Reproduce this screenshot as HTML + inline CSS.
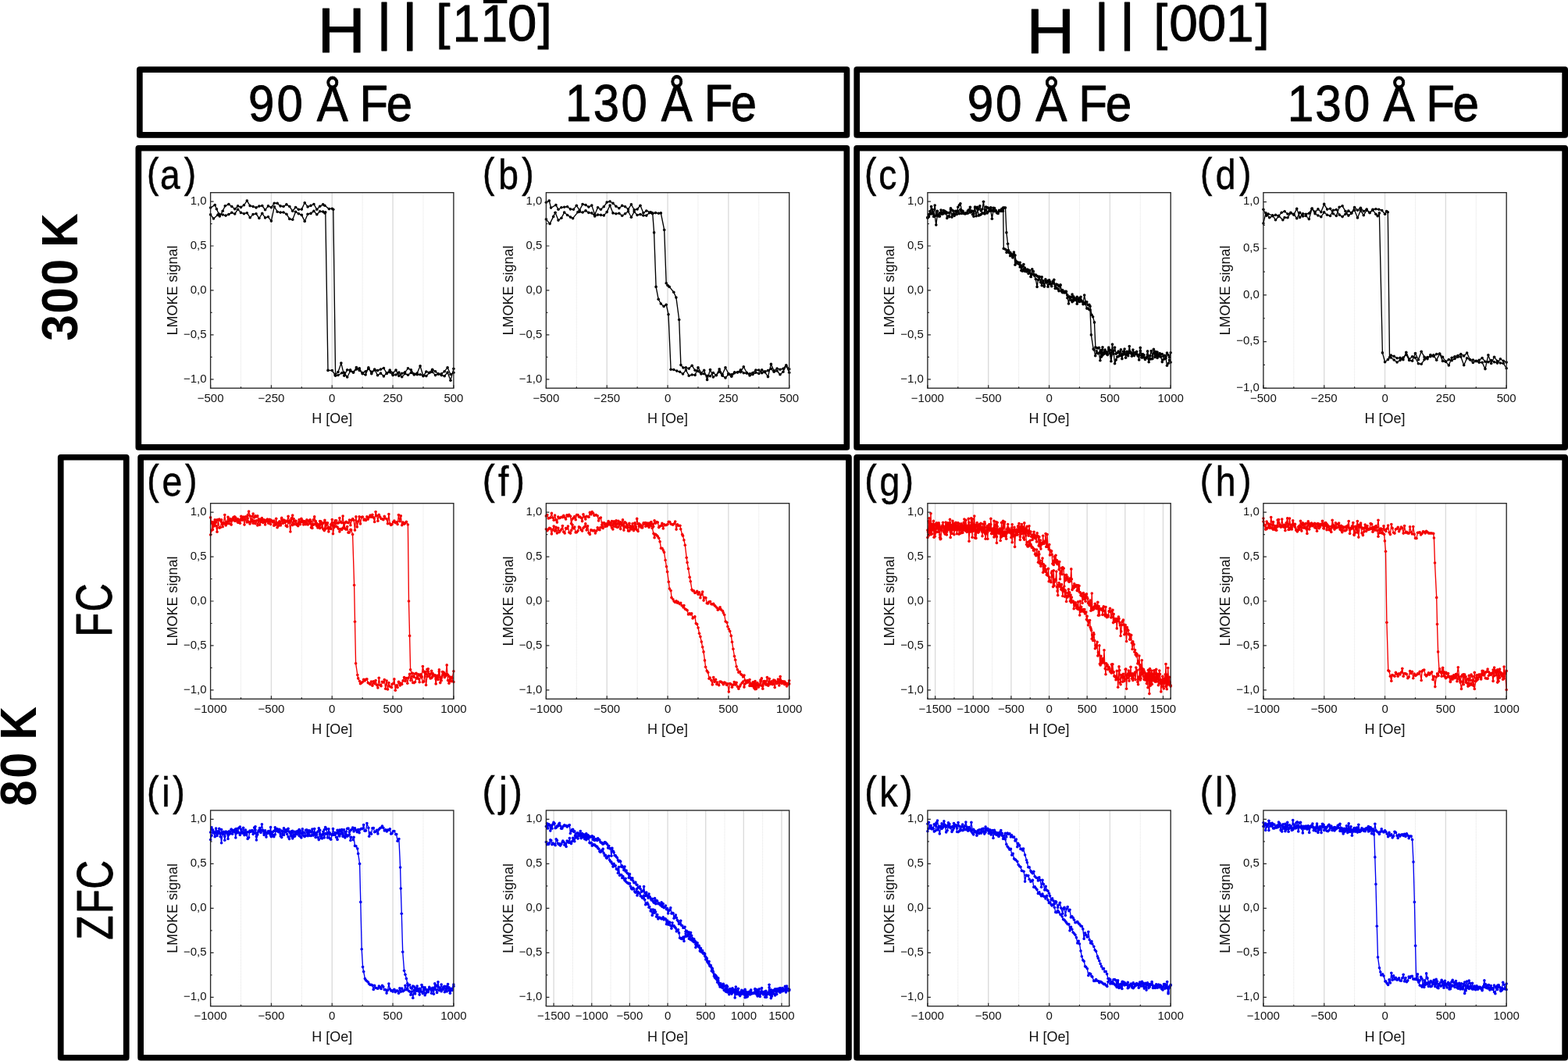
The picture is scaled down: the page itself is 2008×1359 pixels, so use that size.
<!DOCTYPE html><html><head><meta charset="utf-8"><title>LMOKE hysteresis loops</title><style>html,body{margin:0;padding:0;background:#fff;}svg{display:block;}</style></head><body><svg width="2008" height="1359" viewBox="0 0 2008 1359" font-family="'Liberation Sans', Arial, sans-serif">
<rect width="2008" height="1359" fill="#fff"/>
<defs><marker id="mkk" viewBox="-2 -2 4 4" markerWidth="4" markerHeight="4" markerUnits="userSpaceOnUse" overflow="visible"><circle r="1.8" fill="#000"/></marker><marker id="mkr" viewBox="-2 -2 4 4" markerWidth="4" markerHeight="4" markerUnits="userSpaceOnUse" overflow="visible"><circle r="1.8" fill="#f40000"/></marker><marker id="mkb" viewBox="-2 -2 4 4" markerWidth="4" markerHeight="4" markerUnits="userSpaceOnUse" overflow="visible"><circle r="1.8" fill="#0000f2"/></marker></defs>
<g fill="#000">
<text transform="translate(406.39 66.60) scale(1.0384 1)" font-size="82.03" font-weight="normal" stroke="#000" stroke-width="1.0" stroke-linejoin="round">H</text>
<text transform="translate(482.25 50.80) scale(1.1353 1)" font-size="66.06" font-weight="normal" stroke="#000" stroke-width="1.0" stroke-linejoin="round">|</text>
<text transform="translate(514.63 50.80) scale(1.1731 1)" font-size="66.06" font-weight="normal" stroke="#000" stroke-width="1.0" stroke-linejoin="round">|</text>
<text transform="translate(558.31 50.17) scale(1.0398 1)" font-size="62.99" font-weight="normal" stroke="#000" stroke-width="1.0" stroke-linejoin="round">[</text>
<text transform="translate(579.73 52.60) scale(0.9472 1)" font-size="65.80" font-weight="normal" stroke="#000" stroke-width="1.0" stroke-linejoin="round">1</text>
<text transform="translate(616.11 52.60) scale(0.9296 1)" font-size="65.80" font-weight="normal" stroke="#000" stroke-width="1.0" stroke-linejoin="round">1</text>
<text transform="translate(649.91 52.25) scale(1.0321 1)" font-size="65.07" font-weight="normal" stroke="#000" stroke-width="1.0" stroke-linejoin="round">0</text>
<text transform="translate(688.54 50.17) scale(1.0420 1)" font-size="62.99" font-weight="normal" stroke="#000" stroke-width="1.0" stroke-linejoin="round">]</text>
<rect x="619" y="0" width="30.4" height="4.2"/>
<text transform="translate(1314.31 67.70) scale(1.0474 1)" font-size="82.17" font-weight="normal" stroke="#000" stroke-width="1.0" stroke-linejoin="round">H</text>
<text transform="translate(1401.48 50.55) scale(1.0939 1)" font-size="66.28" font-weight="normal" stroke="#000" stroke-width="1.0" stroke-linejoin="round">|</text>
<text transform="translate(1433.75 50.55) scale(1.1316 1)" font-size="66.28" font-weight="normal" stroke="#000" stroke-width="1.0" stroke-linejoin="round">|</text>
<text transform="translate(1477.56 50.57) scale(0.9929 1)" font-size="63.96" font-weight="normal" stroke="#000" stroke-width="1.0" stroke-linejoin="round">[</text>
<text transform="translate(1497.16 52.35) scale(1.0127 1)" font-size="65.07" font-weight="normal" stroke="#000" stroke-width="1.0" stroke-linejoin="round">0</text>
<text transform="translate(1533.56 52.35) scale(1.0127 1)" font-size="65.07" font-weight="normal" stroke="#000" stroke-width="1.0" stroke-linejoin="round">0</text>
<text transform="translate(1570.26 53.00) scale(0.9614 1)" font-size="65.80" font-weight="normal" stroke="#000" stroke-width="1.0" stroke-linejoin="round">1</text>
<text transform="translate(1607.55 50.57) scale(1.0183 1)" font-size="63.96" font-weight="normal" stroke="#000" stroke-width="1.0" stroke-linejoin="round">]</text>
<text transform="translate(0 155.10) scale(0.9219 1)" x="344.99 384.53 417.97 440.13 483.31 499.41 536.77" y="0" font-size="64.93" font-weight="normal" stroke="#000" stroke-width="0.9" stroke-linejoin="round">90 Å Fe</text>
<text transform="translate(0 154.70) scale(0.9008 1)" x="803.74 843.43 883.06 917.24 940.08 984.22 1001.02 1038.92" y="0" font-size="66.38" font-weight="normal" stroke="#000" stroke-width="0.9" stroke-linejoin="round">130 Å Fe</text>
<text transform="translate(0 155.10) scale(0.9251 1)" x="1339.12 1378.36 1411.94 1433.68 1477.05 1493.19 1530.45" y="0" font-size="65.22" font-weight="normal" stroke="#000" stroke-width="0.9" stroke-linejoin="round">90 Å Fe</text>
<text transform="translate(0 154.70) scale(0.9336 1)" x="1765.91 1804.00 1843.04 1876.32 1897.59 1940.57 1956.13 1992.83" y="0" font-size="64.64" font-weight="normal" stroke="#000" stroke-width="0.9" stroke-linejoin="round">130 Å Fe</text>
<text transform="translate(99.26 0) rotate(-90) scale(0.9423 1)" x="-463.53 -426.39 -387.77 -354.69 -336.30" y="0" font-size="64.23" font-weight="bold">300 K</text>
<text transform="translate(45.66 0) rotate(-90) scale(0.9234 1)" x="-1118.07 -1079.46 -1046.38 -1026.31" y="0" font-size="64.23" font-weight="bold">80 K</text>
<text transform="translate(143.36 0) rotate(-90) scale(0.7842 1)" x="-1039.98 -999.12" y="0" font-size="63.94" font-weight="normal" stroke="#000" stroke-width="0.9" stroke-linejoin="round">FC</text>
<text transform="translate(143.75 0) rotate(-90) scale(0.7896 1)" x="-1524.50 -1482.09 -1442.25" y="0" font-size="64.65" font-weight="normal" stroke="#000" stroke-width="0.9" stroke-linejoin="round">ZFC</text>
</g>
<rect x="178.85" y="89.15" width="905.60" height="83.80" fill="none" stroke="#000" stroke-width="7.7" stroke-linejoin="round"/>
<rect x="1097.25" y="89.15" width="906.90" height="83.80" fill="none" stroke="#000" stroke-width="7.7" stroke-linejoin="round"/>
<rect x="177.35" y="189.75" width="907.00" height="383.20" fill="none" stroke="#000" stroke-width="7.7" stroke-linejoin="round"/>
<rect x="1097.15" y="189.75" width="907.00" height="383.20" fill="none" stroke="#000" stroke-width="7.7" stroke-linejoin="round"/>
<rect x="180.15" y="585.75" width="906.80" height="769.00" fill="none" stroke="#000" stroke-width="7.7" stroke-linejoin="round"/>
<rect x="1097.15" y="585.75" width="907.00" height="769.00" fill="none" stroke="#000" stroke-width="7.7" stroke-linejoin="round"/>
<rect x="77.75" y="585.75" width="84.00" height="769.00" fill="none" stroke="#000" stroke-width="7.7" stroke-linejoin="round"/>
<line x1="308.51" y1="246.70" x2="308.51" y2="497.20" stroke="#e2e2e2" stroke-width="1" stroke-dasharray="1 1"/><line x1="347.43" y1="246.70" x2="347.43" y2="497.20" stroke="#dcdcdc" stroke-width="1.4"/><line x1="386.34" y1="246.70" x2="386.34" y2="497.20" stroke="#e2e2e2" stroke-width="1" stroke-dasharray="1 1"/><line x1="425.25" y1="246.70" x2="425.25" y2="497.20" stroke="#dcdcdc" stroke-width="1.4"/><line x1="464.16" y1="246.70" x2="464.16" y2="497.20" stroke="#e2e2e2" stroke-width="1" stroke-dasharray="1 1"/><line x1="503.08" y1="246.70" x2="503.08" y2="497.20" stroke="#dcdcdc" stroke-width="1.4"/><line x1="541.99" y1="246.70" x2="541.99" y2="497.20" stroke="#e2e2e2" stroke-width="1" stroke-dasharray="1 1"/>
<polyline points="269.6,266.1 275.2,262.6 277.4,267.7 280.2,274.0 285.2,275.0 289.1,276.1 292.9,274.6 296.8,272.3 300.7,274.0 304.6,268.2 308.5,272.4 312.4,273.7 316.3,272.7 320.2,278.7 324.1,274.6 328.0,273.8 331.9,279.5 335.8,273.4 339.6,278.9 343.5,277.8 347.4,283.1 351.3,264.7 355.2,271.2 359.1,272.1 363.0,272.0 366.9,274.2 370.8,280.4 374.7,281.3 378.6,271.3 382.4,273.7 386.3,275.4 390.2,283.4 394.1,274.2 398.0,273.4 401.9,270.4 405.8,274.8 409.7,270.8 413.6,271.1 415.9,273.0 416.8,271.8 420.0,474.4 425.3,474.5 429.1,480.1 433.0,476.5 436.9,465.1 440.8,481.3 444.7,473.8 448.6,473.7 452.5,477.3 456.4,470.6 460.3,474.5 464.2,477.6 468.1,475.9 471.9,472.4 475.8,476.4 479.7,473.9 483.6,474.6 487.5,473.1 491.4,471.5 495.3,478.4 499.2,474.0 503.1,477.9 507.0,474.1 510.9,481.4 514.7,478.2 518.6,476.8 522.5,471.8 526.4,473.9 530.3,479.1 534.2,478.0 538.1,468.7 542.0,481.8 545.9,476.0 549.8,477.4 553.7,473.2 557.6,475.7 561.4,479.3 565.3,478.8 569.2,475.7 573.1,470.8 577.0,479.5 580.9,477.2" fill="none" stroke="#000" stroke-width="1.35" stroke-linejoin="round" marker-start="url(#mkk)" marker-mid="url(#mkk)" marker-end="url(#mkk)"/>
<polyline points="269.6,274.9 273.5,280.0 278.9,275.2 281.3,276.9 285.2,270.3 288.3,263.8 292.9,261.6 296.8,264.5 300.7,267.7 304.6,263.9 308.5,265.4 312.4,262.8 316.3,257.1 320.2,263.6 324.1,264.6 328.0,265.9 331.9,264.1 335.8,263.5 339.6,268.8 343.5,263.9 347.4,265.7 351.3,260.2 355.2,260.4 359.1,263.9 363.0,264.5 366.9,261.9 370.8,264.5 374.7,270.3 378.6,265.5 382.4,268.3 386.3,268.1 390.2,259.7 394.1,264.9 398.0,263.4 401.9,261.5 405.8,268.3 409.7,264.3 413.6,261.9 415.9,263.2 421.4,267.6 425.3,267.2 426.8,268.3 429.6,481.3 433.0,480.5 437.7,477.8 440.8,477.3 444.7,483.0 448.6,475.3 452.5,476.5 456.4,473.0 460.3,471.8 464.2,478.8 468.1,480.0 471.9,470.9 475.8,478.8 479.7,473.1 483.6,480.8 487.5,478.1 491.4,481.9 495.3,477.9 499.2,476.7 503.1,480.6 507.0,480.0 510.9,477.1 514.7,482.7 518.6,478.6 522.5,480.2 526.4,477.4 530.3,479.9 534.2,479.8 538.1,479.7 542.0,481.0 545.9,481.6 549.8,477.5 553.7,476.4 557.6,480.6 561.4,478.7 565.3,480.6 569.2,481.7 573.1,477.0 577.0,487.2 580.9,472.3" fill="none" stroke="#000" stroke-width="1.35" stroke-linejoin="round" marker-start="url(#mkk)" marker-mid="url(#mkk)" marker-end="url(#mkk)"/>
<rect x="269.60" y="246.70" width="311.30" height="250.50" fill="none" stroke="#262626" stroke-width="1.35"/>
<path d="M269.60 497.20v-4M308.51 497.20v-2M347.43 497.20v-4M386.34 497.20v-2M425.25 497.20v-4M464.16 497.20v-2M503.08 497.20v-4M541.99 497.20v-2M580.90 497.20v-4M269.60 497.20v-4M580.90 497.20v-4M269.60 485.81h4M269.60 457.35h2M269.60 428.88h4M269.60 400.42h2M269.60 371.95h4M269.60 343.48h2M269.60 315.02h4M269.60 286.55h2M269.60 258.09h4" stroke="#262626" stroke-width="1.2" fill="none"/>
<g font-size="15" fill="#111"><text x="269.60" y="514.80" text-anchor="middle">−500</text><text x="347.43" y="514.80" text-anchor="middle">−250</text><text x="425.25" y="514.80" text-anchor="middle">0</text><text x="503.08" y="514.80" text-anchor="middle">250</text><text x="580.90" y="514.80" text-anchor="middle">500</text><text x="264.60" y="489.61" text-anchor="end">−1,0</text><text x="264.60" y="432.68" text-anchor="end">−0,5</text><text x="264.60" y="375.75" text-anchor="end">0,0</text><text x="264.60" y="318.82" text-anchor="end">0,5</text><text x="264.60" y="261.89" text-anchor="end">1,0</text></g>
<text x="425.25" y="542.30" text-anchor="middle" font-size="18" fill="#111">H [Oe]</text>
<text transform="translate(226.90 371.95) rotate(-90)" text-anchor="middle" font-size="18" fill="#111">LMOKE signal</text>
<text transform="scale(0.8600 1)" x="218.60 238.28 274.10" y="239.70 241.70 239.70" font-size="53.80" fill="#000" stroke="#000" stroke-width="0.5">(a)</text>
<line x1="738.31" y1="246.70" x2="738.31" y2="497.20" stroke="#e2e2e2" stroke-width="1" stroke-dasharray="1 1"/><line x1="777.23" y1="246.70" x2="777.23" y2="497.20" stroke="#dcdcdc" stroke-width="1.4"/><line x1="816.14" y1="246.70" x2="816.14" y2="497.20" stroke="#e2e2e2" stroke-width="1" stroke-dasharray="1 1"/><line x1="855.05" y1="246.70" x2="855.05" y2="497.20" stroke="#dcdcdc" stroke-width="1.4"/><line x1="893.96" y1="246.70" x2="893.96" y2="497.20" stroke="#e2e2e2" stroke-width="1" stroke-dasharray="1 1"/><line x1="932.88" y1="246.70" x2="932.88" y2="497.20" stroke="#dcdcdc" stroke-width="1.4"/><line x1="971.79" y1="246.70" x2="971.79" y2="497.20" stroke="#e2e2e2" stroke-width="1" stroke-dasharray="1 1"/>
<polyline points="699.4,259.2 703.3,257.1 705.6,266.1 711.9,262.6 715.0,268.2 718.9,265.8 722.7,265.2 726.6,264.7 730.5,267.9 734.4,268.2 738.3,263.3 742.2,269.2 746.1,261.6 750.0,262.6 753.9,265.1 757.8,263.1 761.7,274.7 765.6,265.8 769.4,268.3 773.3,264.8 777.2,259.0 781.1,258.0 785.0,260.4 788.9,264.3 792.8,266.7 796.7,263.4 800.6,264.7 804.5,268.1 808.4,261.8 812.2,268.8 816.1,268.0 820.0,263.3 823.9,272.7 827.8,270.0 833.3,271.8 835.7,272.9 837.6,297.9 840.1,367.4 843.2,383.3 846.3,389.0 850.1,392.4 853.2,390.2 856.0,402.7 859.1,473.3 862.8,473.5 866.7,475.1 870.6,476.2 874.5,479.0 878.4,474.1 882.3,481.2 886.2,480.0 890.1,480.4 894.0,470.7 897.9,477.7 901.7,474.4 905.6,486.5 909.5,473.5 913.4,483.0 917.3,480.5 921.2,476.0 925.1,481.3 929.0,483.9 932.9,479.5 936.8,482.3 940.7,477.7 944.5,476.7 948.4,476.6 952.3,469.7 956.2,477.2 960.1,481.0 964.0,479.6 967.9,477.2 971.8,478.4 975.7,473.9 979.6,476.7 983.5,482.6 987.4,466.4 991.2,475.0 995.1,472.0 999.0,473.2 1002.9,472.2 1006.8,467.8 1010.7,472.7" fill="none" stroke="#000" stroke-width="1.35" stroke-linejoin="round" marker-start="url(#mkk)" marker-mid="url(#mkk)" marker-end="url(#mkk)"/>
<polyline points="699.4,280.9 704.1,286.6 708.7,277.4 711.1,272.2 715.0,282.1 718.9,279.3 722.7,272.1 726.6,275.5 730.5,278.1 733.6,279.7 739.9,271.8 742.2,271.2 746.1,272.0 750.0,269.9 753.9,272.4 757.8,272.9 761.7,277.0 765.6,275.1 769.4,275.4 773.3,275.9 777.2,271.6 781.1,263.0 785.0,272.9 788.9,273.8 792.8,273.2 796.7,276.2 800.6,273.8 804.5,270.8 808.4,278.2 812.2,271.1 816.1,275.5 820.0,274.6 823.9,276.0 827.8,276.1 831.7,272.6 835.6,273.8 839.5,272.6 843.4,273.2 846.3,272.9 850.7,294.5 853.2,362.8 855.0,365.6 857.2,367.4 862.8,374.2 865.9,381.1 869.7,409.5 871.9,467.6 875.0,471.0 878.4,470.9 882.3,472.1 886.2,468.3 890.1,474.3 894.0,475.5 897.9,479.0 901.7,478.8 905.6,481.4 909.5,481.7 913.4,477.5 917.3,480.8 921.2,472.7 925.1,479.7 929.0,470.7 932.9,478.5 936.8,479.8 940.7,476.7 944.5,477.0 948.4,473.8 952.3,477.8 956.2,478.1 960.1,478.7 964.0,477.5 967.9,474.1 971.8,474.0 975.7,477.8 979.6,475.9 983.5,474.6 987.4,472.4 991.2,476.2 995.1,475.0 999.0,479.7 1002.9,476.3 1006.8,468.5 1010.7,477.2" fill="none" stroke="#000" stroke-width="1.35" stroke-linejoin="round" marker-start="url(#mkk)" marker-mid="url(#mkk)" marker-end="url(#mkk)"/>
<rect x="699.40" y="246.70" width="311.30" height="250.50" fill="none" stroke="#262626" stroke-width="1.35"/>
<path d="M699.40 497.20v-4M738.31 497.20v-2M777.23 497.20v-4M816.14 497.20v-2M855.05 497.20v-4M893.96 497.20v-2M932.88 497.20v-4M971.79 497.20v-2M1010.70 497.20v-4M699.40 497.20v-4M1010.70 497.20v-4M699.40 485.81h4M699.40 457.35h2M699.40 428.88h4M699.40 400.42h2M699.40 371.95h4M699.40 343.48h2M699.40 315.02h4M699.40 286.55h2M699.40 258.09h4" stroke="#262626" stroke-width="1.2" fill="none"/>
<g font-size="15" fill="#111"><text x="699.40" y="514.80" text-anchor="middle">−500</text><text x="777.23" y="514.80" text-anchor="middle">−250</text><text x="855.05" y="514.80" text-anchor="middle">0</text><text x="932.88" y="514.80" text-anchor="middle">250</text><text x="1010.70" y="514.80" text-anchor="middle">500</text><text x="694.40" y="489.61" text-anchor="end">−1,0</text><text x="694.40" y="432.68" text-anchor="end">−0,5</text><text x="694.40" y="375.75" text-anchor="end">0,0</text><text x="694.40" y="318.82" text-anchor="end">0,5</text><text x="694.40" y="261.89" text-anchor="end">1,0</text></g>
<text x="855.05" y="542.30" text-anchor="middle" font-size="18" fill="#111">H [Oe]</text>
<text transform="translate(656.70 371.95) rotate(-90)" text-anchor="middle" font-size="18" fill="#111">LMOKE signal</text>
<text transform="scale(0.8600 1)" x="718.71 742.07 777.00" y="239.70 241.70 239.70" font-size="53.80" fill="#000" stroke="#000" stroke-width="0.5">(b)</text>
<line x1="1226.81" y1="246.70" x2="1226.81" y2="497.20" stroke="#e2e2e2" stroke-width="1" stroke-dasharray="1 1"/><line x1="1265.73" y1="246.70" x2="1265.73" y2="497.20" stroke="#dcdcdc" stroke-width="1.4"/><line x1="1304.64" y1="246.70" x2="1304.64" y2="497.20" stroke="#e2e2e2" stroke-width="1" stroke-dasharray="1 1"/><line x1="1343.55" y1="246.70" x2="1343.55" y2="497.20" stroke="#dcdcdc" stroke-width="1.4"/><line x1="1382.46" y1="246.70" x2="1382.46" y2="497.20" stroke="#e2e2e2" stroke-width="1" stroke-dasharray="1 1"/><line x1="1421.38" y1="246.70" x2="1421.38" y2="497.20" stroke="#dcdcdc" stroke-width="1.4"/><line x1="1460.29" y1="246.70" x2="1460.29" y2="497.20" stroke="#e2e2e2" stroke-width="1" stroke-dasharray="1 1"/>
<polyline points="1187.9,278.3 1189.5,277.6 1191.0,270.5 1192.6,274.0 1194.1,268.2 1195.7,274.1 1197.2,263.1 1198.8,276.2 1200.4,270.3 1201.9,276.9 1203.5,277.1 1205.0,269.0 1206.6,274.3 1208.1,269.6 1209.7,271.6 1211.2,273.4 1212.8,272.4 1214.4,272.7 1215.9,272.5 1217.5,268.4 1219.0,278.1 1220.6,274.0 1222.1,274.4 1223.7,270.4 1225.3,271.6 1226.8,265.3 1228.4,262.7 1229.9,260.8 1231.5,269.7 1233.0,271.0 1234.6,273.6 1236.2,273.1 1237.7,272.9 1239.3,270.0 1240.8,268.8 1242.4,265.3 1243.9,271.1 1245.5,270.4 1247.0,274.0 1248.6,265.1 1250.2,265.7 1251.7,265.3 1253.3,268.1 1254.8,263.7 1256.4,269.9 1257.9,268.0 1259.5,258.3 1261.1,274.0 1262.6,265.1 1264.2,265.7 1265.7,266.4 1267.3,268.7 1268.8,265.8 1270.4,270.0 1272.0,266.3 1273.5,270.6 1275.1,270.3 1276.6,272.5 1278.2,271.8 1279.7,269.2 1281.3,269.5 1282.8,270.4 1284.7,266.1 1285.3,318.4 1287.5,319.3 1289.1,323.4 1290.2,320.7 1292.2,323.7 1293.7,323.2 1295.3,325.5 1296.9,328.9 1298.4,323.1 1300.0,339.3 1301.1,336.7 1303.1,335.9 1304.6,338.3 1306.2,336.3 1307.8,346.5 1309.3,341.5 1310.9,338.5 1312.4,347.4 1314.6,348.0 1315.5,346.8 1317.1,350.4 1318.6,347.0 1320.2,354.4 1321.8,350.9 1323.3,351.5 1324.9,353.5 1326.4,357.6 1328.1,367.4 1329.5,358.4 1331.1,354.4 1332.7,361.7 1334.2,354.8 1335.8,362.0 1337.3,366.6 1338.9,357.8 1340.4,360.5 1342.0,359.6 1343.6,360.7 1344.5,360.9 1346.7,366.8 1348.2,361.4 1349.8,363.3 1351.3,366.6 1352.9,368.9 1354.4,369.9 1356.0,372.7 1358.0,365.5 1359.1,373.0 1360.7,374.7 1362.2,373.9 1363.8,373.4 1365.3,373.5 1366.9,377.9 1368.5,389.0 1370.0,380.3 1371.7,384.5 1373.1,386.7 1374.7,379.9 1376.2,383.4 1377.8,384.3 1379.3,380.4 1380.9,386.0 1382.5,386.4 1384.0,380.3 1385.1,385.5 1387.1,389.7 1388.7,388.5 1390.2,389.5 1391.8,395.1 1393.4,395.0 1394.9,396.5 1396.0,397.0 1397.4,428.9 1400.2,447.1 1401.1,448.0 1402.7,455.8 1404.3,449.7 1405.8,452.8 1407.4,452.3 1408.9,461.8 1410.5,448.2 1412.0,454.9 1413.6,453.5 1415.1,448.0 1416.7,453.0 1418.3,454.6 1419.8,447.4 1421.4,452.5 1422.9,462.8 1424.5,450.0 1426.0,449.5 1427.6,465.8 1429.2,460.9 1430.7,457.1 1432.3,456.6 1433.8,455.5 1435.4,455.8 1436.9,453.9 1438.5,454.1 1440.1,450.8 1441.6,454.1 1443.2,454.0 1444.7,453.0 1446.3,449.6 1447.8,451.1 1449.4,456.3 1450.9,453.1 1452.5,455.6 1454.1,453.1 1455.6,453.4 1457.2,456.0 1458.7,454.7 1460.3,449.4 1461.8,458.0 1463.4,453.6 1465.0,457.6 1466.5,459.4 1468.1,458.4 1469.6,449.9 1471.2,460.2 1472.7,459.9 1474.3,459.8 1475.9,459.6 1477.4,447.4 1479.0,457.5 1480.5,450.8 1482.1,458.5 1483.6,454.3 1485.2,456.7 1486.7,457.0 1488.3,463.6 1489.9,460.2 1491.4,459.6 1493.0,458.9 1494.5,468.3 1496.1,465.5 1497.6,461.0 1499.2,464.1" fill="none" stroke="#000" stroke-width="1.35" stroke-linejoin="round" marker-start="url(#mkk)" marker-mid="url(#mkk)" marker-end="url(#mkk)"/>
<polyline points="1187.9,279.2 1189.5,274.5 1191.0,274.1 1192.6,264.5 1194.1,273.1 1195.7,277.5 1197.2,276.4 1198.8,288.1 1200.4,275.0 1201.9,276.0 1203.5,272.7 1205.0,273.8 1206.6,272.4 1208.1,273.8 1209.7,270.2 1211.2,271.2 1212.8,279.5 1214.4,276.8 1215.9,277.8 1217.5,266.7 1219.0,269.0 1220.6,270.1 1222.1,276.4 1223.7,274.4 1225.3,274.6 1226.8,270.0 1228.4,273.8 1229.9,268.4 1231.5,273.4 1233.0,270.3 1234.6,273.2 1236.2,273.9 1237.7,272.8 1239.3,273.3 1240.8,268.9 1242.4,272.1 1243.9,270.4 1245.5,274.7 1247.0,277.2 1248.6,265.9 1250.2,276.7 1251.7,267.6 1253.3,276.1 1254.8,275.4 1256.4,274.6 1257.9,272.9 1259.5,273.2 1261.1,272.6 1262.6,268.7 1264.2,273.0 1265.7,271.0 1267.3,269.9 1268.8,269.9 1270.4,280.2 1272.0,269.6 1273.5,266.5 1275.1,269.2 1276.6,272.7 1278.2,273.5 1279.7,270.0 1281.3,270.4 1282.8,267.5 1284.4,270.4 1286.0,266.0 1287.5,266.1 1288.9,297.9 1290.6,312.3 1291.6,320.7 1293.7,327.8 1295.3,325.7 1296.9,330.0 1298.4,325.3 1300.0,327.1 1301.1,334.4 1303.1,337.3 1304.6,336.6 1306.2,341.9 1307.8,340.1 1309.3,347.2 1310.9,344.9 1312.4,343.1 1314.6,345.8 1315.5,345.0 1317.1,345.8 1318.6,346.6 1320.2,354.5 1321.8,344.8 1323.3,347.5 1324.9,352.2 1326.4,352.0 1328.1,353.6 1329.5,354.4 1331.1,354.7 1332.7,361.3 1334.2,365.7 1335.8,359.7 1337.3,367.1 1338.9,359.8 1340.4,361.9 1342.0,367.3 1343.6,358.8 1344.5,363.9 1346.7,363.9 1348.2,360.4 1349.8,358.3 1351.3,369.5 1352.9,364.0 1354.4,364.9 1356.0,366.5 1358.0,364.7 1359.1,372.0 1360.7,371.6 1362.2,374.8 1363.8,375.0 1365.3,373.4 1366.9,381.8 1368.5,380.0 1370.0,380.2 1371.7,380.9 1373.1,377.1 1374.7,385.3 1376.2,381.7 1377.8,384.2 1379.3,389.3 1380.9,383.6 1382.5,381.7 1384.0,383.8 1385.1,385.9 1387.1,387.5 1388.7,378.0 1390.2,386.5 1391.8,386.8 1393.4,390.8 1394.9,390.4 1396.0,392.4 1398.0,403.3 1399.6,405.7 1401.5,412.9 1402.9,444.8 1404.3,445.7 1405.8,446.0 1407.4,445.2 1408.9,450.7 1410.5,457.1 1412.0,444.7 1413.6,451.6 1415.1,452.2 1416.7,450.5 1418.3,454.3 1419.8,445.0 1421.4,448.4 1422.9,455.4 1424.5,441.1 1426.0,453.2 1427.6,445.1 1429.2,453.2 1430.7,452.0 1432.3,450.1 1433.8,452.5 1435.4,447.7 1436.9,459.6 1438.5,450.2 1440.1,447.0 1441.6,458.2 1443.2,450.4 1444.7,455.8 1446.3,443.6 1447.8,452.4 1449.4,452.7 1450.9,448.0 1452.5,451.8 1454.1,451.7 1455.6,450.4 1457.2,454.9 1458.7,461.0 1460.3,445.4 1461.8,455.2 1463.4,458.0 1465.0,454.7 1466.5,460.5 1468.1,458.0 1469.6,454.2 1471.2,463.7 1472.7,455.9 1474.3,449.5 1475.9,456.0 1477.4,452.5 1479.0,450.4 1480.5,455.7 1482.1,451.0 1483.6,455.9 1485.2,452.6 1486.7,454.0 1488.3,453.5 1489.9,456.4 1491.4,455.4 1493.0,456.5 1494.5,452.0 1496.1,454.8 1497.6,457.8 1499.2,451.8" fill="none" stroke="#000" stroke-width="1.35" stroke-linejoin="round" marker-start="url(#mkk)" marker-mid="url(#mkk)" marker-end="url(#mkk)"/>
<rect x="1187.90" y="246.70" width="311.30" height="250.50" fill="none" stroke="#262626" stroke-width="1.35"/>
<path d="M1187.90 497.20v-4M1226.81 497.20v-2M1265.73 497.20v-4M1304.64 497.20v-2M1343.55 497.20v-4M1382.46 497.20v-2M1421.38 497.20v-4M1460.29 497.20v-2M1499.20 497.20v-4M1187.90 497.20v-4M1499.20 497.20v-4M1187.90 485.81h4M1187.90 457.35h2M1187.90 428.88h4M1187.90 400.42h2M1187.90 371.95h4M1187.90 343.48h2M1187.90 315.02h4M1187.90 286.55h2M1187.90 258.09h4" stroke="#262626" stroke-width="1.2" fill="none"/>
<g font-size="15" fill="#111"><text x="1187.90" y="514.80" text-anchor="middle">−1000</text><text x="1265.73" y="514.80" text-anchor="middle">−500</text><text x="1343.55" y="514.80" text-anchor="middle">0</text><text x="1421.38" y="514.80" text-anchor="middle">500</text><text x="1499.20" y="514.80" text-anchor="middle">1000</text><text x="1182.90" y="489.61" text-anchor="end">−1,0</text><text x="1182.90" y="432.68" text-anchor="end">−0,5</text><text x="1182.90" y="375.75" text-anchor="end">0,0</text><text x="1182.90" y="318.82" text-anchor="end">0,5</text><text x="1182.90" y="261.89" text-anchor="end">1,0</text></g>
<text x="1343.55" y="542.30" text-anchor="middle" font-size="18" fill="#111">H [Oe]</text>
<text transform="translate(1145.20 371.95) rotate(-90)" text-anchor="middle" font-size="18" fill="#111">LMOKE signal</text>
<text transform="scale(0.8600 1)" x="1287.26 1308.34 1338.69" y="239.70 241.70 239.70" font-size="53.80" fill="#000" stroke="#000" stroke-width="0.5">(c)</text>
<line x1="1656.81" y1="246.70" x2="1656.81" y2="497.20" stroke="#e2e2e2" stroke-width="1" stroke-dasharray="1 1"/><line x1="1695.73" y1="246.70" x2="1695.73" y2="497.20" stroke="#dcdcdc" stroke-width="1.4"/><line x1="1734.64" y1="246.70" x2="1734.64" y2="497.20" stroke="#e2e2e2" stroke-width="1" stroke-dasharray="1 1"/><line x1="1773.55" y1="246.70" x2="1773.55" y2="497.20" stroke="#dcdcdc" stroke-width="1.4"/><line x1="1812.46" y1="246.70" x2="1812.46" y2="497.20" stroke="#e2e2e2" stroke-width="1" stroke-dasharray="1 1"/><line x1="1851.38" y1="246.70" x2="1851.38" y2="497.20" stroke="#dcdcdc" stroke-width="1.4"/><line x1="1890.29" y1="246.70" x2="1890.29" y2="497.20" stroke="#e2e2e2" stroke-width="1" stroke-dasharray="1 1"/>
<polyline points="1617.9,286.1 1621.0,272.9 1625.7,278.8 1629.6,276.7 1633.5,275.3 1637.4,276.2 1642.8,281.8 1645.1,278.6 1649.0,278.8 1652.9,272.4 1656.8,274.2 1660.7,279.7 1664.6,272.4 1668.5,276.9 1672.4,276.4 1676.3,280.6 1680.2,267.0 1684.1,273.8 1687.9,276.0 1691.8,277.7 1695.7,271.9 1699.6,275.2 1703.5,276.5 1707.4,269.4 1711.3,268.5 1715.2,275.1 1719.1,277.6 1723.0,274.2 1726.9,270.1 1730.7,272.6 1734.6,269.3 1738.5,278.9 1742.4,269.6 1746.3,275.7 1750.2,269.2 1754.1,272.6 1758.0,269.1 1761.9,274.2 1764.2,276.8 1766.4,272.9 1770.4,451.9 1773.6,463.8 1777.4,460.6 1781.3,455.0 1785.2,456.4 1789.1,458.7 1793.0,458.4 1796.9,460.7 1800.8,451.2 1804.7,460.1 1808.6,456.8 1812.5,458.2 1816.4,465.8 1820.2,466.3 1824.1,460.6 1828.0,457.6 1831.9,456.7 1835.8,454.9 1839.7,461.3 1843.6,453.1 1847.5,462.4 1851.4,463.2 1855.3,460.6 1859.2,461.7 1863.0,459.4 1866.9,457.2 1870.8,456.9 1874.7,467.8 1878.6,458.7 1882.5,460.6 1886.4,461.0 1890.3,462.6 1894.2,461.3 1898.1,458.6 1902.0,463.2 1905.9,463.8 1909.7,461.5 1913.6,463.7 1917.5,465.1 1921.4,459.8 1925.3,462.2 1929.2,464.1" fill="none" stroke="#000" stroke-width="1.35" stroke-linejoin="round" marker-start="url(#mkk)" marker-mid="url(#mkk)" marker-end="url(#mkk)"/>
<polyline points="1617.9,268.2 1621.8,276.2 1624.1,274.1 1629.6,275.9 1633.5,281.7 1637.4,277.2 1641.2,272.2 1645.1,270.8 1649.0,274.1 1652.9,272.9 1656.8,275.3 1660.7,267.4 1664.6,278.5 1668.5,273.7 1672.4,274.3 1676.3,273.2 1680.2,267.2 1684.1,271.4 1687.9,267.9 1691.8,271.6 1695.7,261.4 1699.6,268.1 1703.5,267.2 1707.4,273.8 1711.3,276.5 1715.2,265.3 1719.1,263.8 1723.0,270.6 1726.9,276.1 1730.7,273.2 1734.6,265.6 1738.5,269.3 1742.4,266.3 1746.3,270.5 1750.2,268.1 1754.1,272.4 1758.0,268.3 1761.9,267.7 1765.8,268.2 1769.7,269.5 1773.6,274.3 1775.7,270.6 1777.3,271.8 1779.5,457.8 1781.3,458.0 1785.2,461.0 1789.1,464.0 1793.0,461.5 1796.9,458.0 1800.8,454.2 1804.7,461.4 1808.6,462.3 1812.5,452.5 1816.4,460.7 1820.2,450.3 1824.1,457.2 1828.0,459.7 1831.9,454.6 1835.8,456.5 1839.7,453.6 1843.6,453.3 1847.5,457.4 1851.4,463.1 1855.3,467.9 1859.2,458.2 1863.0,456.7 1866.9,455.6 1870.8,453.6 1874.7,455.9 1878.6,452.0 1882.5,460.8 1886.4,464.4 1890.3,462.4 1894.2,464.3 1898.1,464.3 1902.0,472.6 1905.9,454.7 1909.7,465.5 1913.6,457.3 1917.5,462.5 1921.4,465.0 1925.3,465.5 1929.2,471.7" fill="none" stroke="#000" stroke-width="1.35" stroke-linejoin="round" marker-start="url(#mkk)" marker-mid="url(#mkk)" marker-end="url(#mkk)"/>
<rect x="1617.90" y="246.70" width="311.30" height="250.50" fill="none" stroke="#262626" stroke-width="1.35"/>
<path d="M1617.90 497.20v-4M1656.81 497.20v-2M1695.73 497.20v-4M1734.64 497.20v-2M1773.55 497.20v-4M1812.46 497.20v-2M1851.38 497.20v-4M1890.29 497.20v-2M1929.20 497.20v-4M1617.90 497.20v-4M1929.20 497.20v-4M1617.90 497.20h4M1617.90 467.38h2M1617.90 437.56h4M1617.90 407.74h2M1617.90 377.91h4M1617.90 348.09h2M1617.90 318.27h4M1617.90 288.45h2M1617.90 258.63h4" stroke="#262626" stroke-width="1.2" fill="none"/>
<g font-size="15" fill="#111"><text x="1617.90" y="514.80" text-anchor="middle">−500</text><text x="1695.73" y="514.80" text-anchor="middle">−250</text><text x="1773.55" y="514.80" text-anchor="middle">0</text><text x="1851.38" y="514.80" text-anchor="middle">250</text><text x="1929.20" y="514.80" text-anchor="middle">500</text><text x="1612.90" y="501.00" text-anchor="end">−1,0</text><text x="1612.90" y="441.36" text-anchor="end">−0,5</text><text x="1612.90" y="381.71" text-anchor="end">0,0</text><text x="1612.90" y="322.07" text-anchor="end">0,5</text><text x="1612.90" y="262.43" text-anchor="end">1,0</text></g>
<text x="1773.55" y="542.30" text-anchor="middle" font-size="18" fill="#111">H [Oe]</text>
<text transform="translate(1575.20 371.95) rotate(-90)" text-anchor="middle" font-size="18" fill="#111">LMOKE signal</text>
<text transform="scale(0.8600 1)" x="1787.09 1810.16 1845.38" y="239.70 241.70 239.70" font-size="53.80" fill="#000" stroke="#000" stroke-width="0.5">(d)</text>
<line x1="308.51" y1="644.70" x2="308.51" y2="895.30" stroke="#e2e2e2" stroke-width="1" stroke-dasharray="1 1"/><line x1="347.43" y1="644.70" x2="347.43" y2="895.30" stroke="#dcdcdc" stroke-width="1.4"/><line x1="386.34" y1="644.70" x2="386.34" y2="895.30" stroke="#e2e2e2" stroke-width="1" stroke-dasharray="1 1"/><line x1="425.25" y1="644.70" x2="425.25" y2="895.30" stroke="#dcdcdc" stroke-width="1.4"/><line x1="464.16" y1="644.70" x2="464.16" y2="895.30" stroke="#e2e2e2" stroke-width="1" stroke-dasharray="1 1"/><line x1="503.08" y1="644.70" x2="503.08" y2="895.30" stroke="#dcdcdc" stroke-width="1.4"/><line x1="541.99" y1="644.70" x2="541.99" y2="895.30" stroke="#e2e2e2" stroke-width="1" stroke-dasharray="1 1"/>
<polyline points="269.6,662.9 271.0,670.0 272.4,678.4 273.8,671.4 275.2,665.7 276.6,669.2 278.0,665.9 279.4,666.1 280.8,665.0 282.2,666.8 283.6,665.9 285.0,671.8 286.4,670.2 287.8,659.5 289.2,671.8 290.6,668.4 292.0,662.2 293.4,667.1 294.8,671.0 296.2,672.1 297.6,664.9 299.0,662.5 300.4,661.9 301.8,667.3 303.2,665.6 304.6,669.3 306.0,667.9 307.4,670.2 308.8,665.1 310.2,666.3 311.6,662.0 313.0,672.1 314.4,665.0 316.3,669.0 317.2,663.7 318.6,668.6 320.0,671.0 321.4,668.1 322.8,665.3 324.2,670.2 325.6,667.0 327.0,670.7 328.4,666.8 329.8,673.0 331.2,667.2 332.6,672.2 334.0,668.6 335.4,666.3 336.8,669.5 338.2,665.8 339.6,672.0 341.0,667.8 342.4,665.1 343.8,668.5 345.2,665.2 346.6,666.0 348.0,667.3 349.4,668.4 350.8,673.3 352.3,672.4 353.7,671.0 355.1,669.9 356.5,670.2 357.9,667.7 359.3,671.8 360.7,664.8 362.1,666.7 363.5,666.0 364.9,666.9 366.3,673.4 367.7,674.6 369.1,668.6 370.5,669.5 371.9,681.0 373.3,663.9 374.7,660.0 376.1,671.0 377.5,671.6 378.6,667.3 380.3,672.3 381.7,670.3 383.1,665.6 384.5,668.6 385.9,668.5 387.3,666.8 388.7,671.9 390.1,667.5 391.5,671.7 392.9,670.3 394.3,671.9 395.7,667.0 397.1,670.6 398.5,668.0 399.9,676.4 401.3,665.7 402.7,661.9 404.1,667.8 405.5,673.4 406.9,676.0 408.3,671.7 409.7,676.6 411.1,668.1 412.5,675.5 413.9,670.1 415.9,666.4 416.7,677.8 418.1,670.1 419.5,676.5 420.9,680.9 422.3,675.8 423.7,677.5 425.3,665.6 426.5,683.7 427.9,675.4 429.3,669.9 430.7,674.3 432.1,675.1 433.5,677.3 434.9,681.0 436.3,677.5 437.7,678.4 439.1,676.2 440.5,670.0 441.9,677.0 443.3,678.3 444.7,674.5 446.1,682.2 447.5,682.0 448.9,678.4 449.7,678.9 451.6,684.6 453.6,749.5 454.5,796.3 455.6,849.7 457.8,864.5 458.7,868.9 460.6,872.5 461.5,875.7 462.9,874.8 464.3,873.5 465.7,870.2 467.1,871.9 468.5,870.3 469.9,869.8 471.3,874.6 472.7,875.3 474.1,876.6 475.5,873.0 476.9,878.3 478.3,872.9 479.7,875.7 481.1,871.5 482.5,877.4 483.9,881.0 485.3,868.2 486.7,877.4 488.1,878.7 489.5,873.2 490.9,874.1 492.3,870.5 493.7,882.2 495.1,872.0 496.5,883.0 497.9,874.6 499.3,879.2 501.4,880.5 502.1,876.3 503.5,875.8 504.9,869.9 506.3,884.2 507.7,877.7 509.1,880.5 510.5,873.4 512.4,878.0 513.3,875.1 514.7,876.4 516.1,871.9 517.6,867.5 519.0,872.5 520.4,868.5 521.8,875.2 523.0,868.3 524.6,863.4 526.0,871.5 527.4,866.1 528.8,874.4 530.2,874.6 531.6,873.5 533.0,868.9 534.4,867.2 535.8,869.3 537.2,873.8 538.6,865.5 540.0,867.7 541.4,873.7 542.8,872.9 544.2,860.2 545.6,877.5 547.0,866.5 548.4,860.4 549.8,866.6 551.2,869.0 552.6,868.5 554.0,862.4 555.4,864.5 556.8,864.6 558.2,875.9 559.6,866.6 561.0,865.5 562.4,860.3 563.8,867.7 565.2,871.8 566.6,865.2 568.0,861.4 569.4,863.0 570.8,865.3 572.2,851.9 573.6,871.5 575.0,875.3 576.4,869.7 577.8,867.4 579.2,868.5 580.9,859.7" fill="none" stroke="#f40000" stroke-width="1.35" stroke-linejoin="round" marker-start="url(#mkr)" marker-mid="url(#mkr)" marker-end="url(#mkr)"/>
<polyline points="269.6,685.0 271.0,679.3 272.4,668.6 273.8,674.1 275.2,669.9 276.6,673.6 278.0,681.3 279.4,665.8 280.8,676.1 282.2,675.8 283.6,668.6 285.2,674.7 286.4,669.8 287.8,670.6 289.2,673.0 290.6,669.5 292.0,670.6 293.4,665.4 294.8,664.5 296.2,667.5 297.6,666.0 299.0,665.4 300.4,667.3 301.8,663.1 303.2,665.7 304.6,664.7 306.0,669.2 307.4,665.8 308.8,661.3 310.2,664.8 311.6,665.1 313.0,665.2 314.4,661.7 316.3,662.1 317.2,659.7 318.6,655.1 320.0,660.7 321.4,668.0 322.8,661.5 324.2,658.1 325.6,662.9 327.0,660.7 328.4,661.9 329.8,660.9 331.2,665.3 332.6,665.1 334.0,665.7 335.4,663.6 336.8,665.7 338.2,666.6 339.6,668.9 341.0,666.3 342.4,665.8 343.8,670.2 345.2,667.4 346.6,671.6 347.4,666.6 349.4,668.4 350.8,667.0 352.3,671.2 353.7,664.3 355.1,675.7 356.5,673.6 357.9,668.7 359.3,673.0 360.7,663.4 362.1,670.2 363.5,669.7 364.9,668.1 366.3,668.2 367.7,667.3 369.1,661.4 370.5,667.3 371.9,667.1 373.3,664.8 374.7,672.6 376.1,664.6 377.5,667.6 378.9,667.2 380.3,672.1 381.7,673.7 383.1,667.9 384.5,671.8 385.9,664.2 387.3,668.8 388.7,668.5 390.1,668.9 391.5,668.9 392.9,665.9 394.3,667.3 395.7,667.8 397.1,665.8 398.5,675.8 399.9,671.9 401.3,672.3 402.7,671.5 404.1,667.5 405.5,670.2 406.9,673.9 408.3,673.9 409.7,667.5 411.1,671.5 412.5,670.4 413.9,677.7 415.3,679.6 416.7,669.2 418.1,671.6 419.5,669.7 420.9,676.5 422.3,675.9 423.7,671.9 425.3,669.5 426.5,673.1 427.9,669.3 429.3,666.8 430.7,666.8 432.1,670.2 433.5,669.8 434.9,663.6 436.3,668.9 437.7,669.6 439.1,661.1 440.8,676.6 441.9,669.5 443.3,668.4 444.7,669.2 446.1,669.7 447.5,666.1 448.9,672.7 450.3,666.3 451.7,664.6 453.1,666.2 454.5,679.1 455.9,661.9 457.3,674.9 458.7,667.9 460.1,661.8 461.5,670.9 462.9,662.6 464.3,662.0 466.0,666.1 467.1,665.1 468.5,666.4 469.9,661.8 471.3,665.1 472.7,662.4 474.1,660.0 475.5,662.3 476.9,659.2 478.3,662.9 479.7,668.5 481.1,655.5 482.5,660.7 483.9,667.3 485.3,659.2 486.7,662.1 488.1,664.4 489.5,664.8 490.9,665.8 492.3,661.2 493.1,663.8 495.1,664.7 496.5,670.7 497.9,658.6 499.3,670.8 500.7,672.5 502.1,671.6 503.5,668.7 504.9,667.1 506.3,669.6 507.7,668.8 509.1,671.6 510.5,659.6 511.9,667.8 513.3,660.7 514.7,672.8 516.1,669.0 517.6,671.3 519.0,670.1 520.4,668.3 522.4,672.0 523.5,770.0 524.6,814.4 525.6,857.7 527.4,862.4 528.4,862.3 530.2,867.2 531.6,863.0 533.0,862.3 534.4,868.8 535.8,863.7 537.2,865.2 538.6,863.7 540.0,866.4 541.4,853.6 542.8,860.5 544.2,861.7 545.6,863.5 547.0,857.2 548.4,856.7 549.8,865.5 551.2,863.4 552.6,859.2 554.0,866.7 555.4,864.5 556.8,865.2 558.2,869.7 559.6,865.4 561.0,870.4 562.4,857.9 563.8,874.6 565.2,868.2 566.6,860.6 568.0,861.3 569.4,867.6 570.8,865.6 572.2,863.5 573.6,864.4 575.0,866.2 576.4,872.3 577.8,872.7 579.2,871.7 580.9,873.5" fill="none" stroke="#f40000" stroke-width="1.35" stroke-linejoin="round" marker-start="url(#mkr)" marker-mid="url(#mkr)" marker-end="url(#mkr)"/>
<rect x="269.60" y="644.70" width="311.30" height="250.60" fill="none" stroke="#262626" stroke-width="1.35"/>
<path d="M269.60 895.30v-4M308.51 895.30v-2M347.43 895.30v-4M386.34 895.30v-2M425.25 895.30v-4M464.16 895.30v-2M503.08 895.30v-4M541.99 895.30v-2M580.90 895.30v-4M269.60 895.30v-4M580.90 895.30v-4M269.60 883.91h4M269.60 855.43h2M269.60 826.95h4M269.60 798.48h2M269.60 770.00h4M269.60 741.52h2M269.60 713.05h4M269.60 684.57h2M269.60 656.09h4" stroke="#262626" stroke-width="1.2" fill="none"/>
<g font-size="15" fill="#111"><text x="269.60" y="912.90" text-anchor="middle">−1000</text><text x="347.43" y="912.90" text-anchor="middle">−500</text><text x="425.25" y="912.90" text-anchor="middle">0</text><text x="503.08" y="912.90" text-anchor="middle">500</text><text x="580.90" y="912.90" text-anchor="middle">1000</text><text x="264.60" y="887.71" text-anchor="end">−1,0</text><text x="264.60" y="830.75" text-anchor="end">−0,5</text><text x="264.60" y="773.80" text-anchor="end">0,0</text><text x="264.60" y="716.85" text-anchor="end">0,5</text><text x="264.60" y="659.89" text-anchor="end">1,0</text></g>
<text x="425.25" y="940.40" text-anchor="middle" font-size="18" fill="#111">H [Oe]</text>
<text transform="translate(226.90 770.00) rotate(-90)" text-anchor="middle" font-size="18" fill="#111">LMOKE signal</text>
<text transform="scale(0.8600 1)" x="218.79 241.17 275.52" y="633.36 634.60 633.36" font-size="54.01" fill="#000" stroke="#000" stroke-width="0.5">(e)</text>
<line x1="738.31" y1="644.70" x2="738.31" y2="895.30" stroke="#e2e2e2" stroke-width="1" stroke-dasharray="1 1"/><line x1="777.23" y1="644.70" x2="777.23" y2="895.30" stroke="#dcdcdc" stroke-width="1.4"/><line x1="816.14" y1="644.70" x2="816.14" y2="895.30" stroke="#e2e2e2" stroke-width="1" stroke-dasharray="1 1"/><line x1="855.05" y1="644.70" x2="855.05" y2="895.30" stroke="#dcdcdc" stroke-width="1.4"/><line x1="893.96" y1="644.70" x2="893.96" y2="895.30" stroke="#e2e2e2" stroke-width="1" stroke-dasharray="1 1"/><line x1="932.88" y1="644.70" x2="932.88" y2="895.30" stroke="#dcdcdc" stroke-width="1.4"/><line x1="971.79" y1="644.70" x2="971.79" y2="895.30" stroke="#e2e2e2" stroke-width="1" stroke-dasharray="1 1"/>
<polyline points="699.4,660.9 700.8,659.5 702.2,664.0 703.6,663.5 705.0,663.0 706.4,657.4 707.8,663.1 709.2,666.3 710.6,660.1 712.0,665.9 713.4,669.1 714.8,662.1 716.2,663.7 717.6,663.1 719.0,662.3 720.4,662.6 721.8,660.3 723.2,662.7 724.6,664.9 726.0,659.9 727.4,661.2 728.8,659.4 730.5,661.3 731.6,670.6 733.0,664.7 734.4,663.5 735.8,661.6 737.2,665.7 738.6,659.6 740.0,659.6 741.4,662.1 742.8,662.1 744.2,663.2 745.6,667.6 747.0,658.9 748.4,662.0 749.8,664.9 751.2,661.3 752.6,661.7 754.0,662.3 755.4,656.4 756.8,658.9 758.2,655.6 759.6,657.4 761.0,660.3 762.4,659.8 763.4,659.5 765.2,660.8 766.6,667.0 768.0,663.8 769.4,663.0 770.8,672.4 771.6,669.8 773.6,670.1 775.0,671.0 776.4,671.8 777.8,670.3 779.2,667.5 780.6,669.9 782.1,673.0 783.5,667.6 784.9,672.9 786.3,669.8 787.7,670.2 789.1,666.8 790.5,671.3 791.9,667.3 793.3,671.7 794.7,668.8 796.1,671.8 797.5,665.9 798.9,673.1 800.3,668.9 801.7,670.0 803.1,672.2 804.5,675.7 805.9,670.2 807.3,676.4 808.4,676.1 810.1,670.8 811.5,678.3 812.9,669.8 814.3,674.8 815.7,664.4 817.1,671.2 818.5,670.9 819.9,672.1 821.3,673.9 822.7,674.2 824.1,669.9 825.5,670.4 826.9,669.5 828.3,672.0 829.7,673.5 831.1,675.5 832.5,669.8 833.9,668.5 835.3,671.1 836.7,674.6 838.1,666.8 839.5,670.3 840.9,668.5 842.3,669.0 843.7,675.6 845.1,674.0 846.5,673.4 847.9,670.3 849.3,677.0 850.7,671.8 852.1,672.7 853.5,672.5 855.0,671.4 856.3,668.2 857.7,668.6 859.1,671.1 860.5,671.8 861.9,672.1 863.3,670.8 864.7,668.0 866.1,678.1 867.5,671.8 868.9,673.2 870.9,673.2 871.7,677.7 873.7,684.6 874.5,686.3 875.9,691.7 877.3,698.2 879.2,714.2 880.1,720.6 881.5,728.4 883.2,739.2 884.3,744.7 886.0,755.2 887.1,756.7 888.5,756.9 889.9,759.5 891.3,759.0 892.7,757.4 894.1,761.3 895.5,758.7 896.9,765.7 898.3,761.4 899.7,758.1 901.1,769.1 902.4,765.4 903.9,765.8 905.3,772.8 906.7,773.0 907.8,771.1 909.5,770.5 910.9,773.7 912.3,774.0 913.7,773.4 915.1,775.5 915.9,776.3 917.9,778.3 919.3,781.2 920.7,780.1 922.1,777.8 923.5,780.9 925.4,782.5 926.3,784.9 927.7,787.5 929.1,796.0 930.9,797.3 931.9,802.6 933.3,805.8 934.7,808.5 936.3,814.4 937.5,822.2 938.9,831.3 940.5,840.6 941.7,845.3 943.1,853.8 944.5,857.7 945.9,861.3 947.4,860.4 948.8,863.5 950.0,864.5 951.6,866.9 953.0,865.0 954.0,871.4 955.8,872.8 957.2,871.6 958.6,872.7 960.0,870.5 961.4,875.5 962.8,878.0 964.0,878.8 965.6,874.3 967.0,882.7 968.4,878.1 969.8,874.6 971.2,876.9 972.6,877.9 974.0,871.1 975.4,868.9 976.8,878.6 978.2,872.6 979.6,872.5 981.0,876.9 982.4,867.5 983.8,876.4 985.2,874.0 986.6,876.3 988.0,875.4 989.4,876.3 990.8,871.0 992.2,871.5 993.6,874.6 995.0,875.3 996.4,870.1 997.8,878.0 999.2,870.9 1000.6,875.3 1002.0,872.7 1003.4,873.0 1004.8,873.1 1006.2,875.3 1007.6,875.5 1009.0,875.6 1010.7,871.7" fill="none" stroke="#f40000" stroke-width="1.35" stroke-linejoin="round" marker-start="url(#mkr)" marker-mid="url(#mkr)" marker-end="url(#mkr)"/>
<polyline points="699.4,677.8 700.8,679.7 702.2,678.0 703.6,676.4 705.0,677.0 706.4,683.9 707.8,678.6 709.2,674.0 710.6,680.3 712.0,675.4 713.4,682.9 714.8,676.4 716.2,681.7 717.6,679.8 719.0,678.0 720.4,673.6 721.8,681.3 723.2,683.0 724.6,676.6 726.0,677.2 727.4,674.1 728.8,682.0 730.5,683.1 731.6,679.4 733.0,672.3 734.4,676.9 735.8,675.1 737.2,681.9 738.6,681.7 740.0,680.0 741.4,674.9 742.8,675.9 744.2,678.8 745.6,680.1 747.0,676.4 748.4,674.8 749.8,670.9 751.2,679.0 752.6,673.7 754.0,682.6 755.4,684.5 756.8,678.7 758.2,679.3 759.6,680.0 761.0,679.2 762.4,683.0 763.8,680.0 765.2,675.7 766.6,678.2 768.0,678.7 768.8,675.8 770.8,675.6 772.2,676.6 773.6,669.8 775.0,674.5 776.4,672.6 777.2,673.9 779.2,672.0 780.6,669.5 782.1,671.1 783.5,676.0 784.9,678.0 786.3,667.8 787.7,674.6 789.1,671.5 790.5,675.4 791.9,675.0 793.3,670.5 794.7,677.6 796.1,670.9 797.5,672.9 798.9,679.1 800.3,675.2 801.7,674.8 803.1,676.0 804.5,679.9 805.9,680.0 807.3,673.7 808.4,678.0 810.1,673.5 811.5,679.6 812.9,677.4 814.3,676.2 815.7,678.8 817.1,680.5 818.5,674.2 819.9,672.5 821.3,675.7 822.7,675.9 824.1,671.4 825.5,670.1 826.9,674.3 828.3,672.9 829.7,670.0 831.1,672.9 832.5,670.8 833.3,673.2 835.3,676.4 837.0,683.4 838.1,688.7 839.5,684.3 840.9,685.6 842.3,687.1 843.7,689.3 845.1,693.7 846.5,702.3 847.9,702.2 849.3,704.9 850.5,707.4 852.1,717.5 853.5,725.8 854.6,732.4 856.3,745.3 857.4,754.1 859.1,756.5 860.0,765.4 861.9,767.7 863.3,770.3 864.7,771.4 866.1,769.9 867.5,772.3 868.3,771.1 870.3,773.6 871.7,772.4 873.1,775.6 875.1,778.0 875.9,775.6 877.3,780.1 878.7,780.7 880.1,781.8 881.5,786.9 883.2,785.9 884.3,786.9 885.7,785.9 887.1,792.0 888.7,790.5 889.9,789.9 891.3,798.6 892.7,799.6 894.1,804.1 895.5,811.3 896.9,815.6 898.3,822.1 899.7,828.8 901.0,834.9 902.5,845.9 903.6,854.3 905.3,859.2 906.7,861.2 908.1,869.2 909.1,868.0 910.9,871.4 912.3,876.9 913.7,867.5 915.1,873.4 916.5,870.2 917.9,876.4 918.7,874.1 920.7,877.8 922.1,873.0 923.5,873.4 924.9,874.4 926.3,876.7 927.7,874.1 929.1,874.9 930.5,877.2 931.9,875.9 933.3,886.1 934.7,875.5 936.1,876.2 937.5,880.3 938.9,877.3 940.3,873.5 941.7,877.1 943.1,874.3 944.5,879.6 945.9,882.2 947.4,879.3 948.4,877.1 950.2,874.8 951.6,873.1 953.0,880.1 954.4,875.7 955.8,874.3 957.2,874.1 958.6,873.1 960.0,878.4 961.4,878.1 962.8,878.4 964.2,873.7 965.6,881.1 967.0,872.5 968.4,882.4 969.8,875.8 971.2,880.2 972.6,877.5 974.0,873.1 975.4,878.3 976.8,882.3 978.2,875.3 979.6,874.2 981.0,876.7 982.4,876.6 983.8,878.2 985.2,869.3 986.6,875.6 988.0,872.7 989.4,876.8 990.8,872.1 992.2,880.6 993.6,873.1 995.0,875.3 996.4,872.9 997.8,873.4 999.2,866.5 1000.6,872.4 1002.0,875.3 1003.4,873.7 1004.8,876.7 1006.2,875.1 1007.6,879.0 1009.0,876.8 1010.7,875.9" fill="none" stroke="#f40000" stroke-width="1.35" stroke-linejoin="round" marker-start="url(#mkr)" marker-mid="url(#mkr)" marker-end="url(#mkr)"/>
<rect x="699.40" y="644.70" width="311.30" height="250.60" fill="none" stroke="#262626" stroke-width="1.35"/>
<path d="M699.40 895.30v-4M738.31 895.30v-2M777.23 895.30v-4M816.14 895.30v-2M855.05 895.30v-4M893.96 895.30v-2M932.88 895.30v-4M971.79 895.30v-2M1010.70 895.30v-4M699.40 895.30v-4M1010.70 895.30v-4M699.40 883.91h4M699.40 855.43h2M699.40 826.95h4M699.40 798.48h2M699.40 770.00h4M699.40 741.52h2M699.40 713.05h4M699.40 684.57h2M699.40 656.09h4" stroke="#262626" stroke-width="1.2" fill="none"/>
<g font-size="15" fill="#111"><text x="699.40" y="912.90" text-anchor="middle">−1000</text><text x="777.23" y="912.90" text-anchor="middle">−500</text><text x="855.05" y="912.90" text-anchor="middle">0</text><text x="932.88" y="912.90" text-anchor="middle">500</text><text x="1010.70" y="912.90" text-anchor="middle">1000</text><text x="694.40" y="887.71" text-anchor="end">−1,0</text><text x="694.40" y="830.75" text-anchor="end">−0,5</text><text x="694.40" y="773.80" text-anchor="end">0,0</text><text x="694.40" y="716.85" text-anchor="end">0,5</text><text x="694.40" y="659.89" text-anchor="end">1,0</text></g>
<text x="855.05" y="940.40" text-anchor="middle" font-size="18" fill="#111">H [Oe]</text>
<text transform="translate(656.70 770.00) rotate(-90)" text-anchor="middle" font-size="18" fill="#111">LMOKE signal</text>
<text transform="scale(0.8872 1)" x="696.34 719.17 739.47" y="633.36 634.60 633.36" font-size="54.01" fill="#000" stroke="#000" stroke-width="0.5">(f)</text>
<line x1="1197.63" y1="644.70" x2="1197.63" y2="895.30" stroke="#dcdcdc" stroke-width="1.4"/><line x1="1221.95" y1="644.70" x2="1221.95" y2="895.30" stroke="#e2e2e2" stroke-width="1" stroke-dasharray="1 1"/><line x1="1246.27" y1="644.70" x2="1246.27" y2="895.30" stroke="#dcdcdc" stroke-width="1.4"/><line x1="1270.59" y1="644.70" x2="1270.59" y2="895.30" stroke="#e2e2e2" stroke-width="1" stroke-dasharray="1 1"/><line x1="1294.91" y1="644.70" x2="1294.91" y2="895.30" stroke="#dcdcdc" stroke-width="1.4"/><line x1="1319.23" y1="644.70" x2="1319.23" y2="895.30" stroke="#e2e2e2" stroke-width="1" stroke-dasharray="1 1"/><line x1="1343.55" y1="644.70" x2="1343.55" y2="895.30" stroke="#dcdcdc" stroke-width="1.4"/><line x1="1367.87" y1="644.70" x2="1367.87" y2="895.30" stroke="#e2e2e2" stroke-width="1" stroke-dasharray="1 1"/><line x1="1392.19" y1="644.70" x2="1392.19" y2="895.30" stroke="#dcdcdc" stroke-width="1.4"/><line x1="1416.51" y1="644.70" x2="1416.51" y2="895.30" stroke="#e2e2e2" stroke-width="1" stroke-dasharray="1 1"/><line x1="1440.83" y1="644.70" x2="1440.83" y2="895.30" stroke="#dcdcdc" stroke-width="1.4"/><line x1="1465.15" y1="644.70" x2="1465.15" y2="895.30" stroke="#e2e2e2" stroke-width="1" stroke-dasharray="1 1"/><line x1="1489.47" y1="644.70" x2="1489.47" y2="895.30" stroke="#dcdcdc" stroke-width="1.4"/>
<polyline points="1187.9,679.1 1188.6,681.2 1189.3,686.0 1189.9,663.7 1190.6,682.6 1191.3,680.8 1192.0,684.8 1192.7,676.4 1193.3,683.9 1194.0,678.0 1194.7,675.7 1195.4,667.4 1196.1,673.4 1196.8,678.5 1197.4,683.6 1198.1,671.8 1198.8,670.9 1199.5,674.9 1200.2,676.5 1200.8,676.8 1201.5,681.4 1202.2,669.9 1202.9,672.7 1203.6,685.1 1204.2,675.4 1204.9,678.2 1205.6,675.1 1206.3,676.2 1207.0,672.9 1207.6,669.3 1208.3,675.1 1209.0,681.6 1209.7,674.5 1210.4,677.4 1211.1,680.1 1211.7,671.9 1212.4,681.3 1213.1,672.5 1213.8,669.9 1214.5,678.6 1215.1,671.3 1215.8,678.0 1216.5,665.4 1217.2,680.9 1217.9,672.4 1218.5,674.1 1219.2,675.3 1219.9,673.6 1220.6,672.7 1221.3,677.9 1221.9,674.3 1222.6,670.8 1223.3,678.8 1224.0,669.3 1224.7,672.9 1225.4,676.0 1226.0,678.8 1226.7,670.0 1227.4,671.1 1228.1,676.7 1228.8,674.1 1229.4,674.4 1230.1,683.1 1230.8,672.2 1231.5,671.8 1232.2,681.7 1232.8,682.3 1233.5,677.2 1234.2,678.9 1234.9,665.0 1235.6,677.3 1236.2,673.0 1236.9,680.1 1237.6,676.6 1238.3,681.5 1239.0,677.5 1239.7,677.9 1240.3,664.4 1241.0,669.3 1241.7,678.4 1242.4,678.7 1243.1,676.5 1243.7,679.1 1244.4,665.6 1245.1,688.3 1245.8,664.7 1246.3,680.3 1247.1,676.9 1247.8,661.0 1248.5,689.0 1249.2,685.0 1249.9,672.4 1250.5,674.3 1251.2,669.6 1251.9,678.9 1252.6,680.9 1253.3,672.9 1254.0,671.5 1254.6,677.2 1255.3,677.9 1256.0,670.3 1256.7,678.2 1257.4,681.0 1258.0,678.5 1258.7,679.0 1259.4,680.4 1260.1,677.6 1260.8,682.3 1261.4,682.4 1262.1,690.3 1262.8,682.9 1263.5,675.7 1264.2,673.8 1264.8,681.7 1265.5,678.4 1266.2,672.6 1266.9,671.5 1267.6,679.6 1268.3,677.0 1268.9,671.8 1269.6,677.0 1270.3,679.4 1271.0,683.5 1271.7,678.1 1272.3,679.7 1273.0,667.3 1273.7,683.4 1274.4,672.2 1275.1,672.6 1275.7,668.6 1276.4,687.6 1277.1,669.2 1277.8,678.4 1278.5,681.9 1279.1,683.2 1279.8,678.7 1280.5,681.7 1281.2,692.5 1281.9,677.8 1282.6,678.0 1283.2,686.8 1283.9,682.3 1284.6,667.3 1285.3,675.3 1286.0,671.0 1286.6,668.5 1287.3,685.5 1288.0,681.9 1288.7,683.9 1289.4,682.5 1290.0,678.3 1290.7,675.6 1291.4,676.9 1292.1,681.9 1292.8,680.5 1293.5,679.5 1294.1,682.2 1294.9,683.3 1295.5,685.8 1296.2,671.8 1296.9,687.0 1297.5,682.3 1298.2,682.0 1298.9,686.9 1299.6,700.4 1300.3,685.1 1300.9,685.5 1301.6,679.2 1302.3,682.1 1303.0,684.8 1303.7,673.9 1304.3,677.9 1305.0,681.3 1305.7,677.1 1306.4,687.6 1307.1,684.0 1307.8,683.7 1308.4,671.5 1309.1,678.1 1309.8,676.3 1310.5,683.3 1311.2,677.5 1311.8,669.9 1312.5,682.7 1313.2,677.6 1313.9,676.9 1314.4,681.6 1315.2,674.4 1315.9,679.9 1316.6,683.8 1317.3,686.3 1318.0,673.7 1318.6,680.9 1319.3,683.6 1320.0,681.0 1320.7,687.3 1321.4,687.1 1322.1,691.4 1322.7,684.9 1323.4,688.9 1324.1,681.3 1324.8,685.0 1325.5,688.0 1326.1,689.9 1326.8,686.2 1327.5,693.9 1328.2,682.9 1328.9,687.2 1329.5,686.8 1330.2,698.9 1330.9,687.8 1331.6,699.9 1332.3,692.0 1332.9,703.1 1333.8,697.5 1334.3,695.4 1335.0,696.5 1335.7,686.2 1336.4,695.5 1337.0,696.4 1337.7,694.3 1338.4,693.0 1339.1,683.6 1339.8,700.4 1340.4,700.2 1341.1,684.6 1341.9,699.4 1342.5,701.0 1343.2,703.7 1343.8,697.5 1344.5,710.9 1345.2,705.1 1345.9,706.6 1346.6,705.7 1347.2,710.4 1347.9,722.0 1348.6,718.5 1349.3,723.4 1350.0,713.0 1350.7,720.3 1351.3,717.2 1352.0,711.2 1352.8,721.0 1353.4,717.6 1354.1,722.7 1354.7,719.3 1355.4,722.2 1356.1,729.5 1356.8,719.6 1357.5,741.7 1358.1,734.7 1358.8,732.0 1359.5,727.5 1360.2,735.6 1360.9,726.8 1361.5,728.3 1362.2,728.0 1362.9,751.1 1363.6,736.5 1364.3,743.6 1365.0,741.3 1365.6,736.2 1366.3,740.5 1367.0,739.0 1367.7,742.7 1368.4,744.4 1369.0,745.3 1369.7,741.0 1370.4,744.6 1371.1,741.1 1371.8,728.9 1372.4,741.7 1373.1,755.4 1373.8,753.2 1374.5,750.7 1375.2,753.0 1375.8,747.8 1376.5,751.6 1377.2,750.5 1377.9,751.1 1378.6,749.5 1379.3,756.4 1379.9,756.6 1380.6,749.7 1381.3,754.8 1382.0,750.4 1382.5,758.6 1383.3,758.9 1384.0,762.5 1384.7,763.1 1385.4,760.6 1386.1,772.5 1386.7,764.7 1387.4,759.5 1388.1,767.4 1388.8,766.0 1389.5,761.7 1390.1,770.2 1390.6,765.0 1391.5,760.9 1392.2,765.0 1392.9,766.9 1393.6,772.4 1394.2,771.1 1394.9,774.8 1395.6,775.5 1396.3,769.1 1397.0,782.2 1397.6,779.0 1398.3,760.1 1399.0,781.3 1399.7,778.4 1400.4,780.6 1401.0,778.5 1401.5,776.9 1402.4,773.2 1403.1,774.9 1403.8,779.5 1404.4,776.4 1405.1,779.7 1405.8,771.2 1406.5,788.2 1407.2,776.6 1407.9,788.0 1408.5,779.5 1409.2,779.6 1409.9,780.0 1410.6,781.2 1411.3,780.5 1411.9,787.5 1412.6,778.7 1413.3,776.9 1414.0,782.5 1414.7,787.2 1415.3,788.9 1416.0,777.6 1416.7,787.9 1417.4,790.7 1417.8,788.0 1418.7,790.2 1419.4,788.6 1420.1,782.7 1420.8,783.2 1421.5,779.3 1422.2,783.5 1422.8,791.0 1423.5,790.5 1424.2,782.2 1424.9,781.2 1425.6,797.6 1426.2,786.6 1426.9,792.8 1427.6,796.4 1428.3,794.6 1429.0,792.5 1429.6,794.9 1430.3,804.9 1431.0,792.7 1431.7,795.4 1432.4,790.0 1433.0,792.4 1434.0,797.9 1434.4,800.7 1435.1,814.5 1435.8,808.8 1436.5,800.4 1437.1,796.5 1437.8,795.5 1438.5,794.1 1439.2,800.1 1439.9,812.7 1440.5,801.2 1441.2,800.5 1441.9,811.2 1442.6,821.5 1443.3,803.6 1443.9,806.2 1444.8,807.6 1445.3,812.6 1446.0,812.0 1446.7,819.0 1447.3,819.0 1448.0,813.2 1448.7,813.6 1449.4,823.6 1450.1,831.5 1450.8,821.9 1451.5,824.7 1452.1,825.6 1452.8,835.1 1453.5,832.5 1454.2,838.6 1454.8,836.6 1455.6,840.6 1456.2,838.1 1456.9,849.9 1457.6,846.7 1458.2,848.7 1458.9,840.1 1459.6,857.4 1460.3,852.7 1461.1,856.6 1461.6,855.3 1462.3,845.8 1463.0,857.0 1463.7,859.0 1464.4,857.4 1465.1,859.6 1465.7,861.0 1466.4,866.7 1467.1,864.4 1467.8,869.1 1468.5,867.2 1469.1,863.4 1470.0,864.6 1470.5,864.1 1471.2,861.2 1471.9,888.6 1472.5,862.3 1473.2,864.7 1473.9,865.5 1474.6,870.9 1475.3,876.4 1475.9,862.8 1476.6,864.0 1477.3,871.8 1478.0,858.7 1478.7,862.8 1479.4,863.6 1480.0,862.0 1480.7,870.4 1481.4,873.0 1482.1,867.7 1482.8,868.4 1483.4,870.1 1484.1,867.2 1484.8,871.8 1485.5,875.3 1486.2,871.6 1486.8,885.9 1487.5,872.1 1488.2,879.5 1488.9,866.4 1489.6,869.6 1490.3,873.0 1490.9,870.9 1491.6,871.8 1492.3,873.6 1493.0,850.5 1493.7,878.6 1494.3,869.7 1495.0,864.0 1495.7,874.7 1496.4,870.7 1497.1,876.9 1497.7,867.3 1498.4,874.1 1499.2,878.0" fill="none" stroke="#f40000" stroke-width="1.35" stroke-linejoin="round" marker-start="url(#mkr)" marker-mid="url(#mkr)" marker-end="url(#mkr)"/>
<polyline points="1187.9,688.5 1188.6,679.5 1189.3,667.6 1189.9,669.7 1190.6,679.7 1191.3,679.9 1192.0,657.8 1192.7,678.5 1193.3,673.8 1194.0,671.2 1194.7,678.7 1195.4,673.0 1196.1,688.3 1196.8,671.7 1197.4,687.0 1198.1,678.0 1198.8,681.5 1199.5,669.7 1200.2,673.6 1200.8,672.4 1201.5,674.4 1202.2,672.1 1202.9,677.2 1203.6,688.5 1204.2,690.7 1204.9,690.1 1205.6,679.2 1206.3,675.1 1207.0,674.2 1207.6,673.2 1208.3,681.0 1209.0,679.1 1209.7,682.4 1210.4,684.2 1211.1,669.0 1211.7,673.5 1212.4,685.0 1213.1,678.6 1213.8,676.2 1214.5,671.1 1215.1,676.5 1215.8,676.2 1216.5,669.5 1217.2,688.4 1217.9,677.9 1218.5,674.9 1219.2,683.4 1219.9,667.2 1220.6,670.1 1221.3,678.4 1221.9,684.8 1222.6,674.4 1223.3,675.5 1224.0,677.3 1224.7,676.8 1225.4,683.8 1226.0,678.2 1226.7,669.9 1227.4,670.2 1228.1,684.3 1228.8,674.2 1229.4,678.3 1230.1,678.5 1230.8,670.7 1231.5,673.8 1232.2,682.4 1232.8,673.2 1233.5,674.5 1234.2,669.4 1234.9,673.7 1235.6,679.2 1236.2,671.1 1236.9,666.2 1237.6,675.1 1238.3,679.0 1239.0,673.3 1239.7,679.7 1240.3,673.3 1241.0,693.3 1241.7,674.4 1242.4,673.0 1243.1,681.1 1243.7,663.7 1244.4,677.7 1245.1,677.8 1245.8,677.1 1246.3,679.3 1247.1,677.0 1247.8,676.4 1248.5,672.4 1249.2,675.7 1249.9,689.4 1250.5,680.5 1251.2,678.5 1251.9,673.2 1252.6,682.3 1253.3,681.3 1254.0,679.5 1254.6,677.2 1255.3,673.9 1256.0,674.5 1256.7,675.8 1257.4,678.7 1258.0,686.7 1258.7,671.2 1259.4,680.8 1260.1,677.6 1260.8,668.5 1261.4,670.9 1262.1,684.3 1262.8,679.5 1263.5,680.4 1264.2,680.0 1264.8,690.2 1265.5,676.4 1266.2,677.3 1266.9,677.9 1267.6,679.0 1268.3,677.7 1268.9,664.4 1269.6,683.6 1270.3,680.3 1271.0,681.8 1271.7,678.3 1272.3,676.9 1273.0,687.9 1273.7,685.2 1274.4,672.5 1275.1,686.6 1275.7,677.6 1276.4,695.4 1277.1,674.2 1277.8,680.4 1278.5,678.7 1279.1,679.6 1279.8,682.3 1280.5,677.0 1281.2,677.5 1281.9,688.2 1282.6,669.4 1283.2,678.0 1283.9,686.3 1284.6,676.9 1285.3,686.1 1286.0,683.4 1286.6,681.4 1287.3,683.6 1288.0,687.3 1288.7,690.2 1289.4,677.8 1290.0,680.3 1290.7,671.5 1291.4,679.9 1292.1,677.9 1292.8,678.3 1293.5,681.6 1294.1,679.8 1294.9,688.4 1295.5,676.1 1296.2,694.7 1296.9,682.4 1297.5,678.9 1298.2,685.1 1298.9,675.2 1299.6,679.7 1300.3,678.8 1300.9,684.8 1301.6,678.3 1302.3,682.6 1303.0,685.0 1303.7,674.9 1304.3,679.1 1305.0,670.5 1305.7,681.2 1306.4,691.4 1307.1,675.9 1307.8,673.9 1308.4,680.5 1309.1,674.4 1309.5,675.9 1310.5,688.9 1311.2,689.1 1311.8,691.3 1312.5,681.2 1313.2,683.8 1313.9,686.0 1314.6,697.5 1315.2,694.6 1315.9,699.8 1316.6,700.0 1317.6,693.7 1318.0,699.0 1318.6,696.8 1319.3,692.2 1320.0,697.4 1320.7,699.6 1321.4,701.4 1322.1,701.1 1322.7,701.7 1323.4,705.1 1324.1,703.4 1324.8,703.8 1325.5,710.0 1326.1,709.5 1326.8,711.8 1327.5,704.0 1328.4,710.8 1328.9,710.3 1329.5,720.2 1330.2,706.8 1330.9,709.9 1331.6,721.9 1332.3,718.2 1332.9,725.3 1333.6,721.6 1334.3,722.2 1335.0,715.1 1335.7,733.2 1336.4,722.7 1337.0,731.1 1337.7,728.3 1338.4,724.9 1339.2,732.4 1339.8,729.6 1340.4,736.3 1341.1,734.9 1341.8,737.3 1342.5,728.4 1343.2,744.8 1343.8,739.3 1344.5,744.2 1345.2,744.1 1345.9,745.7 1346.6,733.9 1347.2,731.8 1347.9,738.5 1348.6,751.6 1349.3,730.7 1350.0,750.1 1350.7,745.1 1351.3,742.2 1352.0,742.6 1352.8,732.0 1353.4,751.8 1354.1,757.1 1354.7,762.5 1355.4,749.2 1356.1,746.6 1356.8,748.4 1357.5,751.4 1358.1,750.6 1358.8,754.9 1359.5,748.6 1360.2,755.9 1360.9,763.5 1361.5,753.3 1362.2,757.2 1362.9,755.0 1363.6,764.3 1364.3,756.4 1365.0,759.1 1365.6,770.5 1366.3,763.4 1367.0,765.0 1367.7,759.7 1368.4,754.9 1369.0,763.4 1369.7,758.9 1370.4,770.0 1371.1,762.1 1371.8,771.7 1372.4,765.1 1373.1,771.0 1373.8,770.6 1374.4,770.0 1375.2,779.7 1375.8,772.2 1376.5,776.0 1377.2,771.8 1377.9,773.8 1378.6,778.8 1379.3,775.5 1379.9,779.9 1380.6,770.9 1381.3,780.4 1382.0,778.5 1382.7,788.0 1383.3,770.1 1384.0,783.4 1384.7,777.4 1385.3,781.4 1386.1,782.0 1386.7,782.9 1387.4,780.5 1388.1,783.6 1388.8,780.6 1389.5,786.0 1390.1,784.2 1390.8,784.1 1391.5,793.6 1392.2,789.2 1392.9,795.1 1393.6,800.7 1394.2,795.7 1394.7,797.3 1395.6,794.5 1396.3,803.2 1397.0,805.4 1397.6,807.5 1398.3,818.3 1398.8,813.3 1399.7,820.4 1400.4,810.6 1401.0,812.6 1401.7,820.6 1402.4,830.7 1403.1,826.9 1403.8,825.8 1404.2,829.2 1405.1,822.4 1405.8,840.0 1406.5,835.5 1407.2,838.6 1407.9,826.9 1408.5,850.3 1409.2,851.9 1409.9,840.4 1410.6,849.8 1411.3,848.9 1411.9,843.6 1412.3,846.3 1413.3,847.4 1414.0,832.7 1414.7,849.7 1415.3,856.4 1416.0,863.8 1416.7,849.7 1417.4,853.0 1418.1,851.5 1418.7,857.5 1419.4,854.1 1420.1,854.6 1420.8,856.2 1421.5,860.1 1422.2,859.0 1423.1,862.0 1423.5,851.1 1424.2,861.7 1424.9,850.8 1425.6,860.2 1426.2,860.9 1426.9,865.9 1427.6,866.1 1428.3,867.2 1429.0,870.7 1429.6,867.3 1430.3,859.4 1431.3,869.9 1431.7,880.3 1432.4,870.2 1433.0,853.9 1433.7,858.5 1434.4,874.6 1435.1,876.7 1435.8,864.5 1436.5,867.4 1437.1,864.5 1437.8,873.2 1438.5,863.3 1439.2,866.9 1439.9,872.3 1440.5,870.0 1441.2,857.3 1441.9,857.1 1442.6,882.2 1443.3,864.7 1443.9,868.6 1444.6,862.9 1445.3,859.0 1446.0,872.1 1446.7,861.9 1447.5,865.2 1448.0,854.3 1448.7,865.2 1449.4,869.2 1450.1,862.9 1450.8,871.5 1451.4,868.8 1452.1,863.0 1452.8,864.9 1453.5,861.1 1454.2,870.6 1454.8,855.1 1455.5,860.8 1456.2,858.4 1456.9,873.6 1457.6,876.8 1458.2,867.1 1458.9,869.4 1459.6,851.5 1460.3,870.9 1461.0,869.1 1461.6,861.4 1462.3,859.6 1463.0,863.9 1463.7,862.1 1464.4,866.5 1465.1,870.1 1465.7,870.8 1466.4,868.2 1467.1,862.7 1467.8,871.3 1468.5,875.6 1469.1,863.0 1470.0,880.8 1470.5,858.3 1471.2,870.9 1471.9,863.4 1472.5,856.5 1473.2,878.3 1473.9,875.5 1474.6,859.1 1475.3,868.2 1475.9,870.7 1476.6,868.2 1477.3,863.6 1478.0,859.3 1478.7,872.1 1479.4,873.3 1480.0,867.2 1480.7,857.2 1481.4,863.9 1482.1,866.2 1482.8,863.2 1483.4,877.8 1484.1,864.7 1484.8,859.0 1485.5,863.5 1486.2,870.3 1486.8,873.3 1487.5,876.7 1488.2,872.1 1488.9,871.5 1489.6,872.9 1490.3,882.0 1490.9,875.3 1491.6,869.0 1492.3,863.9 1493.0,879.6 1493.7,873.3 1494.3,882.8 1495.0,876.3 1495.7,855.5 1496.4,868.6 1497.1,876.5 1497.7,874.4 1498.4,876.4 1499.2,879.1" fill="none" stroke="#f40000" stroke-width="1.35" stroke-linejoin="round" marker-start="url(#mkr)" marker-mid="url(#mkr)" marker-end="url(#mkr)"/>
<rect x="1187.90" y="644.70" width="311.30" height="250.60" fill="none" stroke="#262626" stroke-width="1.35"/>
<path d="M1197.63 895.30v-4M1221.95 895.30v-2M1246.27 895.30v-4M1270.59 895.30v-2M1294.91 895.30v-4M1319.23 895.30v-2M1343.55 895.30v-4M1367.87 895.30v-2M1392.19 895.30v-4M1416.51 895.30v-2M1440.83 895.30v-4M1465.15 895.30v-2M1489.47 895.30v-4M1187.90 895.30v-2M1499.20 895.30v-2M1187.90 883.91h4M1187.90 855.43h2M1187.90 826.95h4M1187.90 798.48h2M1187.90 770.00h4M1187.90 741.52h2M1187.90 713.05h4M1187.90 684.57h2M1187.90 656.09h4" stroke="#262626" stroke-width="1.2" fill="none"/>
<g font-size="15" fill="#111"><text x="1197.63" y="912.90" text-anchor="middle">−1500</text><text x="1246.27" y="912.90" text-anchor="middle">−1000</text><text x="1294.91" y="912.90" text-anchor="middle">−500</text><text x="1343.55" y="912.90" text-anchor="middle">0</text><text x="1392.19" y="912.90" text-anchor="middle">500</text><text x="1440.83" y="912.90" text-anchor="middle">1000</text><text x="1489.47" y="912.90" text-anchor="middle">1500</text><text x="1182.90" y="887.71" text-anchor="end">−1,0</text><text x="1182.90" y="830.75" text-anchor="end">−0,5</text><text x="1182.90" y="773.80" text-anchor="end">0,0</text><text x="1182.90" y="716.85" text-anchor="end">0,5</text><text x="1182.90" y="659.89" text-anchor="end">1,0</text></g>
<text x="1343.55" y="940.40" text-anchor="middle" font-size="18" fill="#111">H [Oe]</text>
<text transform="translate(1145.20 770.00) rotate(-90)" text-anchor="middle" font-size="18" fill="#111">LMOKE signal</text>
<text transform="scale(0.8600 1)" x="1287.63 1309.93 1342.32" y="633.36 634.60 633.36" font-size="54.01" fill="#000" stroke="#000" stroke-width="0.5">(g)</text>
<line x1="1656.81" y1="644.70" x2="1656.81" y2="895.30" stroke="#e2e2e2" stroke-width="1" stroke-dasharray="1 1"/><line x1="1695.73" y1="644.70" x2="1695.73" y2="895.30" stroke="#dcdcdc" stroke-width="1.4"/><line x1="1734.64" y1="644.70" x2="1734.64" y2="895.30" stroke="#e2e2e2" stroke-width="1" stroke-dasharray="1 1"/><line x1="1773.55" y1="644.70" x2="1773.55" y2="895.30" stroke="#dcdcdc" stroke-width="1.4"/><line x1="1812.46" y1="644.70" x2="1812.46" y2="895.30" stroke="#e2e2e2" stroke-width="1" stroke-dasharray="1 1"/><line x1="1851.38" y1="644.70" x2="1851.38" y2="895.30" stroke="#dcdcdc" stroke-width="1.4"/><line x1="1890.29" y1="644.70" x2="1890.29" y2="895.30" stroke="#e2e2e2" stroke-width="1" stroke-dasharray="1 1"/>
<polyline points="1617.9,664.1 1619.3,672.9 1620.7,672.6 1622.1,677.6 1623.5,676.1 1624.9,673.9 1626.3,671.6 1627.7,675.8 1629.1,676.7 1630.5,668.6 1631.9,673.6 1633.3,673.8 1634.7,679.2 1636.1,666.0 1637.5,665.6 1638.9,673.7 1640.3,675.2 1641.7,665.1 1643.1,673.4 1644.5,675.0 1645.9,679.6 1647.3,670.0 1648.7,663.9 1650.1,678.5 1651.5,664.1 1652.9,676.2 1654.3,675.6 1655.7,670.9 1657.1,673.2 1658.5,671.4 1659.9,678.1 1661.3,680.9 1662.7,678.9 1664.1,673.2 1665.5,675.1 1666.9,680.1 1668.3,670.6 1669.7,676.3 1671.1,674.8 1672.5,677.1 1673.9,683.4 1675.3,667.7 1676.7,677.9 1678.1,674.1 1679.5,670.0 1680.9,672.0 1682.3,672.4 1683.7,675.8 1685.1,676.3 1686.5,671.0 1687.9,670.5 1689.3,676.8 1690.7,674.7 1692.1,671.8 1693.5,672.0 1694.9,674.0 1695.7,670.3 1697.7,673.3 1699.1,671.2 1700.6,675.1 1702.0,678.7 1703.4,677.9 1704.8,674.2 1706.2,675.6 1707.6,673.1 1709.0,678.1 1710.4,675.9 1711.8,671.8 1713.2,671.2 1714.6,673.0 1716.0,675.5 1717.4,673.3 1718.8,681.7 1720.2,675.3 1721.6,675.6 1723.0,674.7 1724.4,678.6 1725.8,673.2 1727.2,667.6 1728.6,683.4 1730.0,677.1 1731.4,674.0 1732.8,669.5 1734.2,685.5 1735.6,682.2 1737.0,674.7 1738.4,667.6 1739.8,688.1 1741.2,675.2 1742.6,670.1 1744.0,682.9 1745.4,685.6 1746.8,680.9 1748.2,672.1 1749.6,680.4 1751.0,673.5 1752.4,678.5 1753.8,677.9 1755.2,677.5 1756.6,676.0 1758.0,681.3 1759.4,677.2 1760.8,679.1 1762.2,673.7 1763.6,679.4 1765.0,687.3 1766.4,678.3 1767.8,679.4 1769.2,682.8 1770.6,683.1 1772.6,684.6 1773.4,692.9 1774.5,706.2 1775.9,797.3 1777.8,858.8 1779.0,859.8 1780.4,866.2 1781.8,872.3 1782.9,864.5 1784.6,865.2 1786.0,866.2 1787.4,861.4 1788.8,863.4 1790.2,866.2 1791.6,862.8 1793.0,864.0 1794.4,861.4 1795.8,856.3 1797.2,866.3 1798.6,862.5 1800.0,862.9 1801.4,863.6 1802.8,868.8 1804.2,867.1 1805.6,859.5 1807.0,862.5 1808.4,860.3 1809.8,868.7 1811.2,863.1 1812.6,865.4 1814.0,864.6 1815.4,862.9 1816.8,863.1 1818.2,860.2 1820.2,871.5 1821.0,859.9 1822.4,858.5 1823.8,858.1 1825.2,864.2 1826.6,865.9 1828.0,864.4 1829.4,861.9 1830.8,864.1 1832.2,862.2 1833.6,860.7 1835.0,870.5 1836.4,866.2 1837.8,879.6 1839.2,867.2 1840.6,862.9 1842.0,865.6 1843.6,856.8 1844.8,860.8 1846.2,866.2 1847.6,857.5 1849.0,865.8 1850.4,862.9 1851.8,861.3 1853.2,863.2 1854.6,862.5 1856.0,867.1 1857.4,873.4 1858.8,866.2 1860.2,870.1 1861.6,866.4 1863.0,868.6 1864.4,863.6 1865.9,872.8 1867.3,864.9 1868.7,869.9 1870.1,874.1 1871.5,882.4 1872.9,873.2 1874.3,863.8 1875.7,867.8 1877.1,873.9 1878.5,870.6 1879.9,869.6 1881.3,878.3 1882.5,875.2 1884.1,877.1 1885.5,871.2 1886.9,878.3 1888.3,882.5 1889.7,872.8 1891.1,871.4 1892.5,869.0 1893.9,864.9 1895.3,867.3 1896.7,868.1 1898.1,862.3 1899.5,865.0 1900.9,864.2 1902.3,868.7 1903.7,869.0 1905.1,869.2 1906.5,865.3 1907.9,862.2 1909.3,863.6 1910.7,862.2 1912.1,872.4 1913.6,855.0 1914.9,859.7 1916.3,864.8 1917.7,857.8 1919.1,872.6 1920.5,857.0 1921.9,861.6 1923.3,862.6 1924.7,870.2 1926.1,854.1 1927.5,862.9 1929.2,859.4" fill="none" stroke="#f40000" stroke-width="1.35" stroke-linejoin="round" marker-start="url(#mkr)" marker-mid="url(#mkr)" marker-end="url(#mkr)"/>
<polyline points="1617.9,668.1 1619.3,672.7 1620.7,678.1 1622.1,668.0 1623.5,670.2 1624.9,672.0 1626.3,676.5 1627.7,662.5 1629.1,672.2 1630.5,678.3 1631.9,676.0 1633.3,678.8 1634.7,673.8 1636.1,674.8 1637.5,669.6 1638.9,672.0 1640.3,673.4 1641.7,673.2 1643.1,674.8 1644.5,672.2 1645.9,675.7 1647.3,669.9 1648.7,674.5 1650.1,671.8 1651.5,678.1 1652.9,672.4 1654.3,678.0 1655.7,666.9 1657.1,671.6 1658.5,675.3 1659.9,679.2 1661.3,679.8 1662.7,674.9 1664.1,678.2 1665.5,667.2 1666.9,672.3 1668.3,669.8 1669.7,672.3 1671.1,671.1 1672.5,670.6 1673.9,677.1 1675.3,669.4 1676.7,670.5 1678.1,672.3 1679.5,671.1 1680.9,673.7 1682.3,671.1 1683.7,670.4 1685.1,674.3 1686.5,680.3 1687.9,671.9 1689.3,673.4 1690.7,671.4 1692.1,672.1 1693.5,667.3 1694.9,676.8 1695.7,676.9 1697.7,669.5 1699.1,678.8 1700.6,673.0 1702.0,674.6 1703.4,679.1 1704.8,681.5 1706.2,666.3 1707.6,672.7 1709.0,676.9 1710.4,669.7 1711.8,675.9 1713.2,675.5 1714.6,670.0 1716.0,678.1 1717.4,679.3 1718.8,674.2 1720.2,675.3 1721.6,679.7 1723.0,679.7 1724.4,674.3 1725.8,674.7 1727.2,676.1 1728.6,679.0 1730.0,676.5 1731.4,677.0 1732.8,675.2 1734.2,684.2 1735.6,674.4 1737.0,677.6 1738.4,682.1 1739.8,672.3 1741.2,674.0 1742.6,672.6 1744.0,675.9 1745.4,677.2 1746.8,676.3 1748.2,676.4 1749.6,675.0 1751.0,677.6 1752.4,677.8 1753.8,677.3 1755.2,670.6 1756.6,671.4 1758.0,678.0 1759.4,675.0 1760.8,676.3 1762.2,673.9 1763.6,675.5 1765.0,666.3 1766.4,682.7 1767.8,677.0 1769.2,677.3 1770.6,682.5 1772.0,673.8 1773.6,678.9 1774.8,680.4 1776.2,677.2 1777.6,673.1 1779.0,682.0 1780.4,684.6 1781.8,671.5 1783.2,676.5 1784.6,682.3 1786.0,683.1 1787.4,677.9 1789.1,677.3 1790.2,675.4 1791.6,680.8 1793.0,677.9 1794.4,675.0 1795.8,676.3 1797.2,683.1 1798.6,673.6 1800.0,682.3 1801.4,681.4 1802.8,683.0 1804.2,683.1 1805.6,674.7 1807.0,681.5 1808.4,683.9 1809.8,674.6 1811.2,684.4 1812.6,689.4 1814.0,689.6 1815.4,682.3 1816.8,682.3 1818.2,681.8 1819.6,684.9 1821.0,683.4 1822.4,680.9 1823.8,681.3 1825.2,682.9 1826.6,680.2 1828.0,681.6 1829.4,683.0 1830.8,683.0 1832.2,683.0 1833.6,683.0 1835.7,683.4 1836.4,689.1 1837.5,721.0 1839.7,765.4 1840.5,799.6 1841.6,834.9 1843.1,860.0 1844.8,860.3 1846.2,862.2 1847.6,855.3 1849.0,860.6 1850.4,866.6 1851.4,868.7 1853.2,867.5 1854.6,866.2 1856.0,866.5 1857.4,872.4 1858.8,868.9 1860.2,867.4 1861.6,864.9 1863.0,868.5 1864.4,866.8 1865.9,863.5 1867.3,854.7 1868.7,867.0 1870.1,872.2 1871.5,866.3 1872.9,864.2 1874.3,876.8 1875.7,864.1 1877.1,866.9 1878.5,874.8 1879.9,879.1 1881.3,865.4 1882.5,871.6 1884.1,864.1 1885.5,866.2 1886.9,876.3 1888.3,861.4 1889.7,872.6 1891.1,864.7 1892.5,870.2 1893.9,864.1 1895.3,864.0 1896.7,869.9 1898.1,859.4 1899.5,859.5 1900.9,862.3 1902.3,861.4 1903.7,860.4 1905.1,857.0 1906.5,860.8 1907.9,864.2 1909.3,864.2 1910.7,862.4 1912.1,858.1 1913.6,865.7 1914.9,858.8 1916.3,859.7 1917.7,874.1 1919.1,859.7 1920.5,868.3 1921.9,861.5 1923.3,865.9 1924.7,864.0 1926.1,869.0 1927.5,861.5 1929.2,883.5" fill="none" stroke="#f40000" stroke-width="1.35" stroke-linejoin="round" marker-start="url(#mkr)" marker-mid="url(#mkr)" marker-end="url(#mkr)"/>
<rect x="1617.90" y="644.70" width="311.30" height="250.60" fill="none" stroke="#262626" stroke-width="1.35"/>
<path d="M1617.90 895.30v-4M1656.81 895.30v-2M1695.73 895.30v-4M1734.64 895.30v-2M1773.55 895.30v-4M1812.46 895.30v-2M1851.38 895.30v-4M1890.29 895.30v-2M1929.20 895.30v-4M1617.90 895.30v-4M1929.20 895.30v-4M1617.90 883.91h4M1617.90 855.43h2M1617.90 826.95h4M1617.90 798.48h2M1617.90 770.00h4M1617.90 741.52h2M1617.90 713.05h4M1617.90 684.57h2M1617.90 656.09h4" stroke="#262626" stroke-width="1.2" fill="none"/>
<g font-size="15" fill="#111"><text x="1617.90" y="912.90" text-anchor="middle">−1000</text><text x="1695.73" y="912.90" text-anchor="middle">−500</text><text x="1773.55" y="912.90" text-anchor="middle">0</text><text x="1851.38" y="912.90" text-anchor="middle">500</text><text x="1929.20" y="912.90" text-anchor="middle">1000</text><text x="1612.90" y="887.71" text-anchor="end">−1,0</text><text x="1612.90" y="830.75" text-anchor="end">−0,5</text><text x="1612.90" y="773.80" text-anchor="end">0,0</text><text x="1612.90" y="716.85" text-anchor="end">0,5</text><text x="1612.90" y="659.89" text-anchor="end">1,0</text></g>
<text x="1773.55" y="940.40" text-anchor="middle" font-size="18" fill="#111">H [Oe]</text>
<text transform="translate(1575.20 770.00) rotate(-90)" text-anchor="middle" font-size="18" fill="#111">LMOKE signal</text>
<text transform="scale(0.8600 1)" x="1787.04 1810.05 1845.35" y="633.36 634.60 633.36" font-size="54.01" fill="#000" stroke="#000" stroke-width="0.5">(h)</text>
<line x1="308.51" y1="1038.00" x2="308.51" y2="1288.80" stroke="#e2e2e2" stroke-width="1" stroke-dasharray="1 1"/><line x1="347.43" y1="1038.00" x2="347.43" y2="1288.80" stroke="#dcdcdc" stroke-width="1.4"/><line x1="386.34" y1="1038.00" x2="386.34" y2="1288.80" stroke="#e2e2e2" stroke-width="1" stroke-dasharray="1 1"/><line x1="425.25" y1="1038.00" x2="425.25" y2="1288.80" stroke="#dcdcdc" stroke-width="1.4"/><line x1="464.16" y1="1038.00" x2="464.16" y2="1288.80" stroke="#e2e2e2" stroke-width="1" stroke-dasharray="1 1"/><line x1="503.08" y1="1038.00" x2="503.08" y2="1288.80" stroke="#dcdcdc" stroke-width="1.4"/><line x1="541.99" y1="1038.00" x2="541.99" y2="1288.80" stroke="#e2e2e2" stroke-width="1" stroke-dasharray="1 1"/>
<polyline points="269.6,1075.6 271.0,1070.2 272.4,1063.3 273.8,1066.9 275.2,1071.8 276.6,1066.2 278.0,1070.4 279.4,1065.1 280.8,1061.3 282.2,1071.8 283.6,1062.6 285.0,1068.4 286.4,1065.4 287.8,1076.3 289.2,1065.2 290.6,1065.6 292.0,1074.5 293.4,1068.7 294.8,1067.7 296.2,1062.4 297.6,1068.2 299.0,1063.6 300.4,1063.0 301.8,1073.0 303.2,1061.6 304.6,1065.3 306.0,1060.2 307.4,1059.0 308.8,1066.6 310.2,1065.8 311.6,1066.9 313.0,1069.8 314.4,1063.0 315.8,1066.4 317.2,1065.8 318.6,1065.8 320.0,1065.5 321.4,1065.1 322.8,1064.5 324.2,1065.7 325.6,1067.3 327.0,1058.7 328.4,1071.6 329.8,1069.1 331.2,1063.8 332.6,1064.1 334.0,1063.5 335.4,1055.8 336.8,1064.0 338.2,1069.4 339.6,1063.7 341.0,1066.3 342.4,1066.9 343.8,1064.6 345.2,1065.2 346.6,1069.9 347.4,1065.9 349.4,1069.3 350.8,1071.8 352.3,1068.9 353.7,1062.1 355.1,1062.2 356.5,1064.8 357.9,1062.2 359.3,1070.9 360.7,1072.6 362.1,1068.5 363.5,1069.4 364.9,1065.9 366.3,1062.9 367.7,1064.7 369.1,1061.3 370.5,1065.4 371.9,1067.2 373.3,1071.3 374.7,1064.2 376.1,1069.5 377.5,1071.2 378.9,1067.4 380.3,1068.6 381.7,1064.3 383.1,1070.6 384.5,1064.3 385.9,1067.7 387.3,1067.0 388.7,1070.4 390.1,1071.6 391.5,1070.6 392.9,1063.1 394.3,1070.7 395.7,1065.6 397.1,1070.4 398.5,1070.5 399.9,1069.0 401.3,1070.1 402.7,1066.4 404.1,1068.7 405.5,1069.2 406.9,1072.8 408.3,1075.6 409.7,1063.3 411.1,1073.5 412.5,1073.9 413.9,1065.3 415.3,1072.9 416.7,1067.6 418.1,1068.1 419.5,1067.0 420.9,1066.7 422.3,1073.8 423.7,1075.2 425.3,1069.4 426.5,1068.8 427.9,1069.5 429.3,1069.0 430.7,1072.6 432.1,1075.4 433.5,1067.7 434.9,1071.0 436.3,1068.0 437.7,1063.7 439.1,1071.5 440.5,1070.9 441.9,1072.9 443.3,1068.7 444.7,1071.3 446.1,1070.0 447.5,1068.7 448.9,1076.5 449.7,1072.2 452.3,1075.6 453.1,1072.4 454.5,1083.4 455.9,1083.8 457.8,1087.0 458.7,1093.4 460.6,1106.4 461.8,1155.4 463.2,1215.8 464.6,1238.6 465.7,1244.6 467.4,1253.5 468.5,1255.5 469.9,1256.7 471.5,1258.0 472.7,1260.2 474.1,1261.5 475.5,1261.4 476.9,1262.0 478.3,1267.4 479.6,1262.3 481.1,1265.2 482.5,1265.7 483.9,1266.2 485.3,1263.1 486.7,1264.6 488.1,1266.5 489.5,1262.2 490.9,1264.1 492.3,1267.7 493.7,1267.5 495.1,1272.1 496.5,1268.5 497.9,1260.1 499.3,1266.7 500.7,1268.9 502.1,1268.8 503.1,1270.1 504.9,1267.3 506.3,1270.8 507.7,1269.1 509.1,1269.0 510.5,1272.3 511.9,1265.7 513.3,1270.2 514.7,1266.0 516.1,1269.7 517.6,1268.5 519.0,1262.4 520.4,1267.7 521.8,1265.7 523.2,1269.1 524.6,1270.0 526.0,1274.2 527.4,1270.1 528.8,1278.2 530.2,1268.4 531.6,1272.9 533.0,1269.3 534.4,1268.4 535.8,1266.7 537.2,1274.1 538.6,1269.5 540.0,1261.5 541.4,1264.2 542.8,1267.1 544.2,1274.7 545.6,1271.9 547.0,1267.9 548.4,1269.5 549.8,1266.6 551.2,1266.2 552.6,1268.8 554.0,1265.9 555.4,1273.2 556.8,1259.9 558.2,1267.6 559.6,1271.4 561.0,1263.9 562.4,1264.8 563.8,1266.1 565.2,1269.8 566.6,1267.6 568.0,1265.2 569.4,1270.7 570.8,1269.3 572.2,1269.9 573.6,1260.5 575.0,1268.6 576.4,1272.3 577.8,1267.0 579.2,1268.5 580.9,1263.3" fill="none" stroke="#0000f2" stroke-width="1.35" stroke-linejoin="round" marker-start="url(#mkb)" marker-mid="url(#mkb)" marker-end="url(#mkb)"/>
<polyline points="269.6,1066.1 271.0,1059.8 272.4,1062.9 273.8,1065.7 275.2,1066.7 276.6,1061.1 278.0,1065.1 279.4,1067.8 280.8,1066.4 282.2,1067.7 283.6,1079.7 285.0,1066.8 286.4,1066.6 287.8,1071.5 289.2,1065.4 290.6,1066.7 292.0,1069.0 293.4,1064.9 294.8,1066.3 296.2,1062.2 297.6,1063.7 299.0,1065.1 300.4,1065.8 301.8,1061.9 303.2,1067.0 304.6,1066.0 306.0,1066.8 307.4,1069.5 308.8,1062.3 310.2,1067.1 311.6,1060.3 313.0,1066.9 314.4,1066.8 315.8,1069.4 317.2,1074.5 318.6,1072.7 320.0,1064.1 321.4,1064.5 322.8,1063.6 324.2,1068.5 325.6,1060.1 327.0,1063.1 328.4,1076.0 329.8,1066.8 331.2,1064.7 332.6,1060.5 334.0,1066.5 335.4,1063.8 336.8,1063.6 338.2,1067.2 339.6,1066.0 341.0,1072.1 342.4,1067.2 343.8,1065.0 345.2,1067.8 346.6,1059.6 347.4,1071.8 349.4,1065.6 350.8,1064.5 352.3,1059.7 353.7,1064.4 355.1,1061.8 356.5,1065.6 357.9,1065.7 359.3,1068.2 360.7,1064.0 362.1,1065.5 363.5,1060.7 364.9,1064.3 366.3,1064.7 367.7,1068.5 369.1,1071.9 370.5,1074.6 371.9,1066.2 373.3,1064.9 374.7,1073.9 376.1,1071.7 377.5,1065.4 378.9,1068.6 380.3,1064.8 381.7,1065.6 383.1,1062.6 384.5,1071.3 385.9,1073.0 387.3,1061.9 388.7,1066.3 390.1,1067.1 391.5,1063.3 392.9,1063.4 394.3,1069.0 395.7,1063.9 397.1,1064.4 398.5,1066.0 399.9,1062.0 401.3,1069.0 402.7,1061.6 404.1,1072.6 405.5,1066.9 406.9,1065.3 408.3,1060.7 409.7,1068.1 411.1,1071.2 412.5,1069.1 413.9,1068.1 415.3,1062.7 416.7,1059.5 418.1,1061.9 419.5,1072.9 420.9,1061.8 422.3,1066.8 423.7,1068.7 425.3,1069.0 426.5,1061.6 427.9,1067.5 429.3,1066.5 430.7,1067.3 432.1,1063.3 433.5,1066.1 434.9,1063.0 436.3,1065.0 437.7,1062.6 439.1,1069.6 440.5,1062.7 441.9,1067.8 443.3,1065.3 444.7,1061.2 446.1,1061.1 447.5,1065.8 448.9,1063.6 450.3,1062.6 451.7,1060.0 453.1,1065.0 454.5,1060.9 455.9,1063.2 457.3,1065.7 458.7,1062.5 460.1,1066.7 461.5,1062.3 462.9,1061.4 464.3,1061.6 465.7,1056.5 467.1,1064.2 468.5,1064.1 469.9,1054.5 471.9,1060.4 472.7,1071.2 474.1,1066.6 475.5,1068.2 476.9,1060.7 478.3,1060.6 479.7,1065.7 481.1,1065.3 482.5,1063.3 483.9,1067.9 485.3,1062.3 486.7,1060.7 488.1,1060.0 489.5,1058.0 490.9,1060.4 492.3,1064.0 493.7,1062.9 495.3,1065.0 496.5,1063.1 497.9,1063.2 499.3,1061.7 500.7,1068.1 502.1,1067.4 503.5,1064.8 504.9,1064.5 506.8,1068.8 507.7,1068.5 509.1,1077.3 510.9,1074.5 512.6,1111.0 513.3,1138.1 514.3,1170.2 515.7,1219.3 517.6,1243.2 519.0,1248.2 520.4,1253.5 521.8,1259.8 522.5,1262.6 524.6,1261.5 526.0,1265.1 527.4,1266.3 528.8,1263.0 530.2,1263.7 531.6,1265.5 533.0,1267.6 534.2,1263.0 535.8,1269.6 537.2,1266.2 538.6,1267.2 540.0,1270.3 541.4,1272.5 542.8,1269.1 544.2,1264.7 545.6,1267.6 547.0,1269.8 548.4,1270.6 549.8,1264.4 551.2,1266.9 552.6,1272.2 554.0,1265.3 555.4,1267.2 556.8,1264.8 558.2,1262.1 559.6,1263.3 561.0,1257.7 562.4,1268.6 563.8,1266.9 565.2,1261.1 566.6,1267.4 568.0,1264.0 569.4,1263.3 570.8,1266.8 572.2,1263.2 573.6,1265.9 575.0,1264.8 576.4,1269.8 577.8,1266.2 579.2,1266.5 580.9,1261.1" fill="none" stroke="#0000f2" stroke-width="1.35" stroke-linejoin="round" marker-start="url(#mkb)" marker-mid="url(#mkb)" marker-end="url(#mkb)"/>
<rect x="269.60" y="1038.00" width="311.30" height="250.80" fill="none" stroke="#262626" stroke-width="1.35"/>
<path d="M269.60 1288.80v-4M308.51 1288.80v-2M347.43 1288.80v-4M386.34 1288.80v-2M425.25 1288.80v-4M464.16 1288.80v-2M503.08 1288.80v-4M541.99 1288.80v-2M580.90 1288.80v-4M269.60 1288.80v-4M580.90 1288.80v-4M269.60 1277.40h4M269.60 1248.90h2M269.60 1220.40h4M269.60 1191.90h2M269.60 1163.40h4M269.60 1134.90h2M269.60 1106.40h4M269.60 1077.90h2M269.60 1049.40h4" stroke="#262626" stroke-width="1.2" fill="none"/>
<g font-size="15" fill="#111"><text x="269.60" y="1306.40" text-anchor="middle">−1000</text><text x="347.43" y="1306.40" text-anchor="middle">−500</text><text x="425.25" y="1306.40" text-anchor="middle">0</text><text x="503.08" y="1306.40" text-anchor="middle">500</text><text x="580.90" y="1306.40" text-anchor="middle">1000</text><text x="264.60" y="1281.20" text-anchor="end">−1,0</text><text x="264.60" y="1224.20" text-anchor="end">−0,5</text><text x="264.60" y="1167.20" text-anchor="end">0,0</text><text x="264.60" y="1110.20" text-anchor="end">0,5</text><text x="264.60" y="1053.20" text-anchor="end">1,0</text></g>
<text x="425.25" y="1333.90" text-anchor="middle" font-size="18" fill="#111">H [Oe]</text>
<text transform="translate(226.90 1163.40) rotate(-90)" text-anchor="middle" font-size="18" fill="#111">LMOKE signal</text>
<text transform="scale(0.8600 1)" x="218.73 241.12 257.16" y="1031.59 1032.80 1031.59" font-size="54.33" fill="#000" stroke="#000" stroke-width="0.5">(i)</text>
<line x1="709.13" y1="1038.00" x2="709.13" y2="1288.80" stroke="#dcdcdc" stroke-width="1.4"/><line x1="733.45" y1="1038.00" x2="733.45" y2="1288.80" stroke="#e2e2e2" stroke-width="1" stroke-dasharray="1 1"/><line x1="757.77" y1="1038.00" x2="757.77" y2="1288.80" stroke="#dcdcdc" stroke-width="1.4"/><line x1="782.09" y1="1038.00" x2="782.09" y2="1288.80" stroke="#e2e2e2" stroke-width="1" stroke-dasharray="1 1"/><line x1="806.41" y1="1038.00" x2="806.41" y2="1288.80" stroke="#dcdcdc" stroke-width="1.4"/><line x1="830.73" y1="1038.00" x2="830.73" y2="1288.80" stroke="#e2e2e2" stroke-width="1" stroke-dasharray="1 1"/><line x1="855.05" y1="1038.00" x2="855.05" y2="1288.80" stroke="#dcdcdc" stroke-width="1.4"/><line x1="879.37" y1="1038.00" x2="879.37" y2="1288.80" stroke="#e2e2e2" stroke-width="1" stroke-dasharray="1 1"/><line x1="903.69" y1="1038.00" x2="903.69" y2="1288.80" stroke="#dcdcdc" stroke-width="1.4"/><line x1="928.01" y1="1038.00" x2="928.01" y2="1288.80" stroke="#e2e2e2" stroke-width="1" stroke-dasharray="1 1"/><line x1="952.33" y1="1038.00" x2="952.33" y2="1288.80" stroke="#dcdcdc" stroke-width="1.4"/><line x1="976.65" y1="1038.00" x2="976.65" y2="1288.80" stroke="#e2e2e2" stroke-width="1" stroke-dasharray="1 1"/><line x1="1000.97" y1="1038.00" x2="1000.97" y2="1288.80" stroke="#dcdcdc" stroke-width="1.4"/>
<polyline points="699.4,1058.6 700.5,1054.8 701.5,1061.1 702.6,1055.5 703.7,1056.9 704.8,1064.1 705.8,1057.4 706.9,1061.3 708.0,1055.9 709.0,1053.4 710.1,1054.7 711.2,1060.8 712.2,1060.3 713.3,1058.1 714.4,1058.3 715.5,1055.9 716.5,1054.2 717.6,1057.7 718.7,1061.2 719.7,1061.2 720.8,1059.0 721.9,1057.7 722.9,1056.7 724.0,1057.8 725.1,1057.5 726.2,1059.1 727.2,1058.3 728.3,1057.4 729.4,1056.8 730.4,1067.4 731.5,1064.4 732.6,1062.9 733.6,1062.3 734.7,1065.2 735.8,1064.8 736.5,1070.4 737.9,1068.0 739.0,1067.1 740.1,1067.0 741.1,1068.9 742.2,1069.0 743.3,1064.5 744.3,1073.7 745.4,1067.5 746.5,1068.6 747.4,1071.5 748.6,1069.1 749.7,1070.9 750.8,1067.8 751.8,1071.6 752.9,1069.5 754.0,1072.6 755.0,1071.3 756.1,1071.6 757.2,1072.2 758.3,1070.8 759.3,1075.4 760.4,1072.0 761.0,1075.7 761.5,1076.5 762.5,1074.9 763.6,1074.8 764.7,1076.6 765.7,1073.9 766.8,1075.4 767.9,1076.1 769.0,1078.7 770.0,1079.3 771.1,1079.5 771.9,1081.3 773.2,1080.7 774.3,1078.9 775.4,1079.0 776.4,1080.1 777.5,1081.3 778.6,1086.1 779.7,1083.5 780.7,1086.7 781.8,1086.9 782.9,1096.3 783.9,1086.4 785.4,1090.4 786.1,1092.1 787.1,1095.7 788.2,1095.7 789.3,1097.5 790.4,1098.7 791.4,1101.7 792.5,1103.5 793.6,1102.6 794.6,1103.4 795.7,1110.2 796.3,1108.7 796.8,1109.6 797.8,1110.9 798.9,1114.4 800.0,1110.0 801.1,1116.1 802.1,1115.1 803.2,1118.2 804.3,1119.1 805.3,1124.2 806.4,1119.5 807.5,1124.5 808.5,1126.7 809.9,1124.8 810.7,1128.1 811.8,1130.6 812.8,1130.7 813.9,1130.0 815.0,1133.0 816.0,1133.5 817.1,1136.8 818.2,1136.9 819.3,1135.6 820.3,1138.8 821.4,1142.3 822.5,1141.6 823.5,1141.1 824.6,1135.6 825.7,1143.5 826.7,1147.5 827.8,1143.1 828.9,1147.2 830.0,1150.1 831.0,1145.0 832.1,1148.6 833.2,1150.9 834.2,1153.0 835.3,1151.2 836.4,1154.4 837.4,1156.2 838.5,1150.6 839.8,1157.8 840.7,1153.2 841.7,1154.1 842.8,1157.6 843.9,1156.9 844.9,1158.3 846.0,1159.8 847.1,1155.7 848.1,1161.4 849.2,1157.6 850.3,1162.8 851.4,1161.7 852.4,1160.1 853.5,1164.7 854.6,1163.6 855.6,1169.9 856.1,1166.8 856.7,1166.3 857.8,1165.6 858.8,1162.8 859.9,1170.1 861.0,1169.2 862.1,1169.9 863.1,1176.2 864.3,1173.7 865.3,1172.0 866.3,1175.6 867.4,1178.5 868.5,1180.1 869.5,1183.4 870.6,1182.7 871.7,1179.3 872.5,1185.1 873.8,1185.7 874.9,1188.5 876.0,1188.2 877.0,1187.2 878.1,1193.2 879.2,1192.3 880.2,1193.6 881.3,1196.7 882.4,1194.1 883.4,1196.5 884.5,1194.6 885.6,1198.4 886.7,1201.9 887.7,1203.7 888.8,1202.9 889.9,1205.2 890.9,1213.6 892.0,1207.2 893.1,1207.8 894.3,1211.3 895.2,1211.4 896.3,1214.5 897.4,1214.5 898.4,1217.3 899.5,1220.1 900.6,1221.5 901.6,1220.8 902.7,1221.9 903.8,1225.7 905.1,1227.2 905.9,1231.0 907.0,1233.4 908.1,1231.5 909.1,1236.8 910.2,1236.5 911.3,1239.5 912.3,1242.4 913.2,1244.3 914.5,1248.0 915.6,1248.5 916.6,1249.6 917.7,1251.1 918.8,1258.2 919.8,1252.9 920.9,1259.1 921.4,1260.3 922.0,1261.7 923.0,1259.9 924.1,1263.3 925.2,1262.1 926.3,1260.3 927.3,1263.1 928.4,1263.0 929.6,1266.4 930.5,1269.6 931.6,1263.7 932.7,1270.8 933.8,1267.5 934.8,1266.6 935.9,1271.4 937.0,1270.4 938.0,1271.5 939.1,1270.4 940.5,1267.6 941.2,1271.5 942.3,1264.0 943.4,1269.3 944.5,1271.8 945.5,1273.1 946.6,1271.9 947.7,1272.3 948.7,1270.6 949.8,1268.4 950.9,1270.2 951.9,1269.4 953.0,1271.3 954.1,1277.8 955.2,1273.3 956.2,1277.1 957.3,1271.6 958.4,1270.9 959.4,1272.4 960.5,1271.0 961.6,1268.3 962.6,1272.3 963.7,1271.8 964.8,1272.4 965.9,1272.0 966.9,1267.5 968.0,1272.0 969.1,1267.5 970.1,1272.7 971.2,1268.4 972.3,1266.9 973.3,1273.7 974.4,1271.4 975.5,1271.4 976.6,1270.7 977.6,1273.9 978.7,1270.3 979.8,1270.2 980.8,1274.3 981.5,1277.2 983.0,1273.3 984.0,1271.5 985.1,1264.7 986.2,1272.8 987.3,1278.6 988.3,1274.6 989.4,1269.8 990.5,1268.4 991.5,1268.6 992.6,1266.9 993.7,1269.0 994.7,1273.5 995.8,1268.2 996.9,1266.2 998.0,1269.3 999.0,1265.5 1000.1,1269.9 1001.2,1267.5 1002.2,1269.7 1003.3,1267.8 1004.4,1268.7 1005.4,1268.2 1006.5,1271.0 1007.6,1266.9 1008.7,1266.8 1009.7,1268.9 1010.7,1268.6" fill="none" stroke="#0000f2" stroke-width="1.35" stroke-linejoin="round" marker-start="url(#mkb)" marker-mid="url(#mkb)" marker-end="url(#mkb)"/>
<polyline points="699.4,1078.6 700.5,1081.8 701.5,1080.7 702.6,1081.4 703.7,1079.6 704.8,1075.8 705.8,1076.5 706.9,1081.8 708.0,1080.0 709.0,1081.0 710.1,1081.2 711.2,1082.8 712.2,1074.8 713.3,1076.3 714.4,1080.2 715.5,1081.6 716.5,1080.8 717.6,1083.1 718.7,1081.3 720.1,1078.8 720.8,1077.1 721.9,1078.5 722.9,1082.3 724.0,1080.3 725.1,1084.4 726.2,1077.0 727.2,1077.9 728.3,1079.3 729.4,1073.6 730.4,1079.5 731.5,1080.6 732.6,1077.7 733.7,1073.3 734.7,1075.4 735.8,1077.8 736.9,1072.7 737.9,1072.8 739.0,1071.0 740.1,1074.1 741.1,1067.8 741.9,1070.6 743.3,1068.9 744.3,1072.7 745.4,1069.7 746.5,1072.1 747.6,1071.8 748.6,1074.6 749.7,1073.3 750.8,1075.7 751.8,1073.6 752.9,1074.1 754.0,1073.4 755.0,1079.5 756.1,1079.9 757.2,1079.3 758.3,1083.2 759.3,1081.7 760.4,1082.1 761.5,1082.1 762.5,1083.2 763.7,1084.3 764.7,1084.4 765.7,1086.4 766.8,1087.3 767.9,1090.6 769.0,1091.5 770.0,1089.4 771.1,1090.3 772.2,1087.4 773.2,1092.9 774.3,1096.0 775.4,1095.4 776.4,1098.7 777.2,1099.2 778.6,1097.0 779.7,1096.3 780.7,1101.5 781.8,1103.6 782.9,1104.1 783.9,1106.2 785.0,1110.1 786.1,1106.3 787.1,1109.3 788.2,1108.7 789.3,1113.1 790.4,1113.6 790.8,1113.2 791.4,1118.2 792.5,1110.6 793.6,1121.2 794.6,1120.5 795.7,1120.6 796.8,1124.5 797.8,1122.6 798.9,1125.1 800.0,1127.6 801.1,1125.2 801.7,1129.2 803.2,1130.7 804.3,1131.1 805.3,1132.0 806.4,1131.5 807.5,1135.2 808.5,1138.1 809.6,1139.0 810.7,1137.2 811.8,1138.8 812.8,1142.0 813.9,1143.2 815.4,1138.9 816.0,1146.9 817.1,1142.4 818.2,1143.9 819.3,1144.7 820.3,1147.8 821.4,1148.0 822.5,1150.1 823.5,1150.4 824.6,1147.0 825.7,1152.5 826.7,1158.7 827.8,1157.5 828.9,1156.4 830.0,1158.5 831.0,1162.2 831.7,1161.4 833.2,1166.9 834.2,1165.1 835.3,1172.4 836.4,1165.1 837.4,1169.5 838.5,1165.7 839.6,1168.0 840.7,1174.3 841.7,1171.5 842.8,1176.9 843.9,1175.1 845.2,1175.5 846.0,1176.0 847.1,1177.0 848.1,1176.7 849.2,1174.9 850.3,1177.9 851.4,1176.7 852.4,1177.1 853.5,1183.8 854.6,1179.1 855.6,1184.0 856.1,1184.1 856.7,1181.0 857.8,1181.2 858.8,1185.6 859.9,1189.3 861.0,1182.0 862.1,1186.2 863.1,1185.8 864.2,1187.4 865.3,1188.9 866.3,1193.0 867.0,1191.9 868.5,1190.9 869.5,1194.9 870.6,1201.4 871.7,1201.6 872.5,1202.5 873.8,1202.6 874.9,1200.2 876.0,1205.5 877.0,1199.7 878.1,1196.1 879.2,1199.5 880.6,1198.5 881.3,1197.2 882.4,1202.5 883.5,1199.9 884.5,1203.7 885.6,1202.5 886.7,1204.4 887.2,1205.6 887.7,1205.3 888.8,1206.8 889.9,1206.1 890.9,1209.7 892.0,1209.5 893.1,1211.2 894.3,1212.4 895.2,1212.8 896.3,1218.1 897.4,1218.9 898.4,1217.6 899.5,1217.6 900.6,1220.3 901.6,1221.5 902.7,1224.6 903.8,1229.0 905.1,1228.4 905.9,1231.9 907.0,1232.2 908.1,1235.0 909.1,1237.6 910.2,1237.1 911.3,1243.7 912.3,1240.5 913.2,1245.5 914.5,1250.2 915.6,1252.3 916.6,1253.2 917.7,1254.5 918.8,1255.9 919.8,1255.7 920.9,1260.8 921.4,1261.4 922.0,1264.0 923.0,1264.0 924.1,1263.0 925.2,1265.6 926.3,1263.3 927.3,1268.4 928.4,1267.0 929.6,1270.3 930.5,1262.4 931.6,1271.0 932.7,1269.3 933.8,1273.8 934.8,1268.7 935.9,1267.0 937.0,1273.1 938.0,1265.8 939.1,1269.6 940.2,1268.3 941.2,1277.9 942.6,1267.4 943.4,1273.5 944.5,1269.9 945.5,1266.2 946.6,1273.9 947.7,1275.6 948.7,1271.6 949.8,1273.2 950.9,1272.2 951.9,1272.0 953.0,1273.9 954.1,1267.2 955.2,1270.1 956.2,1273.0 957.3,1276.5 958.4,1273.8 959.4,1270.3 960.5,1274.0 961.6,1268.1 962.6,1272.9 963.7,1272.2 964.8,1272.2 965.9,1271.7 966.9,1266.6 968.0,1272.4 969.1,1273.9 970.1,1276.0 971.2,1268.9 972.3,1275.4 973.3,1276.5 974.4,1270.7 975.5,1265.5 976.6,1272.4 977.6,1273.1 978.7,1271.7 979.8,1277.2 980.8,1269.2 981.5,1274.5 983.0,1271.7 984.0,1272.7 985.1,1261.2 986.2,1274.3 987.3,1267.8 988.3,1276.3 989.4,1271.2 990.5,1269.3 991.5,1273.2 992.6,1275.0 993.7,1270.3 994.7,1266.8 995.8,1267.5 996.9,1269.8 998.0,1268.7 999.0,1271.2 1000.1,1266.2 1001.2,1269.3 1002.2,1265.5 1003.3,1267.5 1004.4,1267.9 1005.4,1263.4 1006.5,1269.7 1007.6,1263.0 1008.7,1266.3 1009.7,1268.0 1010.7,1267.3" fill="none" stroke="#0000f2" stroke-width="1.35" stroke-linejoin="round" marker-start="url(#mkb)" marker-mid="url(#mkb)" marker-end="url(#mkb)"/>
<rect x="699.40" y="1038.00" width="311.30" height="250.80" fill="none" stroke="#262626" stroke-width="1.35"/>
<path d="M709.13 1288.80v-4M733.45 1288.80v-2M757.77 1288.80v-4M782.09 1288.80v-2M806.41 1288.80v-4M830.73 1288.80v-2M855.05 1288.80v-4M879.37 1288.80v-2M903.69 1288.80v-4M928.01 1288.80v-2M952.33 1288.80v-4M976.65 1288.80v-2M1000.97 1288.80v-4M699.40 1288.80v-2M1010.70 1288.80v-2M699.40 1277.40h4M699.40 1248.90h2M699.40 1220.40h4M699.40 1191.90h2M699.40 1163.40h4M699.40 1134.90h2M699.40 1106.40h4M699.40 1077.90h2M699.40 1049.40h4" stroke="#262626" stroke-width="1.2" fill="none"/>
<g font-size="15" fill="#111"><text x="709.13" y="1306.40" text-anchor="middle">−1500</text><text x="757.77" y="1306.40" text-anchor="middle">−1000</text><text x="806.41" y="1306.40" text-anchor="middle">−500</text><text x="855.05" y="1306.40" text-anchor="middle">0</text><text x="903.69" y="1306.40" text-anchor="middle">500</text><text x="952.33" y="1306.40" text-anchor="middle">1000</text><text x="1000.97" y="1306.40" text-anchor="middle">1500</text><text x="694.40" y="1281.20" text-anchor="end">−1,0</text><text x="694.40" y="1224.20" text-anchor="end">−0,5</text><text x="694.40" y="1167.20" text-anchor="end">0,0</text><text x="694.40" y="1110.20" text-anchor="end">0,5</text><text x="694.40" y="1053.20" text-anchor="end">1,0</text></g>
<text x="855.05" y="1333.90" text-anchor="middle" font-size="18" fill="#111">H [Oe]</text>
<text transform="translate(656.70 1163.40) rotate(-90)" text-anchor="middle" font-size="18" fill="#111">LMOKE signal</text>
<text transform="scale(0.8943 1)" x="690.63 714.50 730.05" y="1031.59 1032.80 1031.59" font-size="54.33" fill="#000" stroke="#000" stroke-width="0.5">(j)</text>
<line x1="1226.81" y1="1038.00" x2="1226.81" y2="1288.80" stroke="#e2e2e2" stroke-width="1" stroke-dasharray="1 1"/><line x1="1265.73" y1="1038.00" x2="1265.73" y2="1288.80" stroke="#dcdcdc" stroke-width="1.4"/><line x1="1304.64" y1="1038.00" x2="1304.64" y2="1288.80" stroke="#e2e2e2" stroke-width="1" stroke-dasharray="1 1"/><line x1="1343.55" y1="1038.00" x2="1343.55" y2="1288.80" stroke="#dcdcdc" stroke-width="1.4"/><line x1="1382.46" y1="1038.00" x2="1382.46" y2="1288.80" stroke="#e2e2e2" stroke-width="1" stroke-dasharray="1 1"/><line x1="1421.38" y1="1038.00" x2="1421.38" y2="1288.80" stroke="#dcdcdc" stroke-width="1.4"/><line x1="1460.29" y1="1038.00" x2="1460.29" y2="1288.80" stroke="#e2e2e2" stroke-width="1" stroke-dasharray="1 1"/>
<polyline points="1187.9,1055.2 1189.3,1053.3 1190.7,1059.5 1192.1,1057.4 1193.5,1060.3 1194.9,1061.4 1196.3,1055.8 1197.7,1057.5 1199.1,1053.8 1200.5,1051.0 1201.9,1059.4 1203.3,1058.4 1204.7,1058.5 1206.1,1054.8 1207.5,1059.3 1208.9,1051.9 1210.3,1056.9 1211.7,1059.5 1213.1,1057.5 1214.5,1053.7 1215.9,1055.5 1217.0,1059.1 1218.7,1059.6 1220.1,1058.2 1221.5,1061.0 1222.9,1058.3 1224.3,1058.2 1225.7,1061.0 1227.1,1053.6 1228.5,1058.3 1229.9,1062.0 1231.3,1058.9 1232.7,1056.0 1234.1,1063.1 1235.5,1058.0 1236.9,1053.1 1238.3,1059.3 1239.7,1064.3 1241.1,1059.5 1242.5,1061.0 1243.9,1053.4 1245.3,1063.1 1246.7,1062.2 1248.1,1064.3 1249.5,1066.0 1250.9,1070.3 1252.3,1063.9 1253.7,1063.0 1255.1,1062.8 1256.5,1063.2 1257.9,1061.6 1259.3,1061.4 1260.7,1068.1 1262.1,1059.1 1263.1,1063.0 1264.9,1061.3 1266.3,1063.7 1267.7,1065.1 1269.1,1067.1 1270.6,1063.6 1272.0,1063.9 1273.4,1066.3 1274.8,1065.8 1276.2,1069.5 1277.6,1066.9 1279.0,1071.4 1280.4,1066.0 1281.8,1063.5 1283.2,1067.3 1284.7,1071.0 1286.0,1070.2 1287.4,1067.2 1288.8,1072.0 1290.2,1067.1 1291.6,1068.5 1293.0,1067.8 1294.4,1072.0 1295.6,1069.9 1297.2,1072.2 1298.6,1072.0 1300.0,1076.9 1301.4,1075.1 1302.8,1084.7 1303.7,1080.2 1305.6,1082.9 1307.0,1087.6 1308.4,1087.2 1309.8,1089.3 1310.6,1087.0 1312.6,1095.0 1314.6,1101.8 1315.4,1104.8 1316.8,1110.7 1318.2,1110.9 1320.0,1115.5 1321.0,1117.3 1322.4,1118.8 1323.8,1116.3 1325.2,1122.5 1326.6,1124.0 1328.1,1124.6 1329.4,1128.0 1330.8,1123.7 1332.2,1127.3 1333.6,1136.3 1335.0,1127.3 1336.4,1132.6 1337.8,1139.9 1339.2,1135.2 1340.6,1140.2 1342.0,1141.3 1343.4,1144.3 1344.5,1147.4 1346.2,1152.6 1347.6,1150.8 1349.0,1153.8 1350.4,1157.9 1351.8,1154.6 1352.6,1155.4 1354.6,1162.5 1356.0,1159.0 1357.4,1156.2 1358.8,1163.1 1360.8,1170.3 1361.6,1164.1 1363.0,1162.2 1364.4,1172.6 1365.8,1164.2 1367.2,1161.6 1368.9,1166.8 1370.0,1165.2 1371.4,1174.9 1372.8,1173.7 1374.4,1175.9 1375.6,1178.3 1377.0,1181.8 1378.4,1181.2 1379.8,1180.5 1381.2,1182.8 1382.5,1183.9 1384.0,1185.9 1385.4,1186.6 1386.8,1189.9 1388.2,1202.4 1389.6,1195.0 1390.7,1197.6 1392.4,1200.3 1393.8,1193.6 1395.2,1203.7 1396.6,1207.9 1398.0,1205.7 1398.8,1209.0 1400.8,1212.4 1402.2,1216.7 1403.6,1218.5 1405.5,1225.0 1406.4,1227.5 1407.8,1230.7 1409.2,1234.6 1410.6,1237.9 1412.3,1240.9 1413.4,1240.5 1414.8,1244.6 1416.2,1244.3 1417.6,1247.6 1419.0,1253.5 1420.4,1253.5 1421.8,1254.8 1423.2,1258.9 1424.6,1259.9 1426.0,1254.8 1427.4,1254.5 1428.8,1255.5 1430.2,1263.1 1431.3,1258.0 1433.0,1263.3 1434.4,1260.7 1435.9,1260.4 1437.3,1257.3 1438.7,1260.6 1440.1,1258.5 1441.5,1261.1 1442.9,1260.9 1444.3,1258.2 1445.7,1262.7 1447.1,1261.3 1448.5,1260.0 1449.9,1263.7 1451.3,1258.9 1452.7,1260.7 1454.1,1261.0 1455.5,1261.9 1456.9,1261.3 1458.3,1265.3 1459.7,1260.3 1461.1,1263.1 1462.5,1259.9 1463.9,1259.3 1465.3,1266.1 1466.7,1264.4 1468.1,1260.9 1469.5,1261.2 1470.9,1262.1 1472.3,1264.1 1473.7,1261.2 1475.1,1257.6 1476.5,1262.2 1477.9,1265.2 1479.3,1265.4 1480.7,1263.6 1482.1,1264.0 1483.5,1261.3 1484.9,1264.8 1486.3,1262.3 1487.7,1266.7 1489.1,1268.0 1490.5,1262.0 1491.9,1266.2 1493.3,1262.5 1494.7,1265.4 1496.1,1270.8 1497.5,1263.7 1499.2,1262.2" fill="none" stroke="#0000f2" stroke-width="1.35" stroke-linejoin="round" marker-start="url(#mkb)" marker-mid="url(#mkb)" marker-end="url(#mkb)"/>
<polyline points="1187.9,1064.7 1189.3,1061.2 1190.7,1058.1 1192.1,1061.2 1193.5,1062.0 1194.9,1061.1 1196.3,1065.1 1197.7,1064.3 1199.1,1054.9 1200.5,1062.9 1201.9,1060.7 1203.3,1067.9 1204.7,1059.8 1206.1,1061.5 1207.5,1060.0 1208.9,1056.7 1210.3,1058.5 1211.7,1065.9 1213.1,1063.8 1214.5,1057.6 1215.9,1059.7 1217.3,1060.3 1219.0,1065.4 1220.1,1063.3 1221.5,1054.5 1222.9,1056.7 1224.3,1056.8 1225.7,1065.5 1227.1,1065.6 1228.5,1064.6 1229.9,1063.7 1231.3,1063.3 1232.7,1063.8 1234.1,1059.9 1235.5,1062.0 1236.9,1062.8 1238.3,1061.4 1239.7,1060.5 1241.1,1063.2 1242.5,1062.6 1243.9,1065.0 1245.3,1067.1 1246.7,1068.9 1248.1,1065.2 1249.5,1065.1 1250.9,1066.2 1252.3,1064.6 1253.7,1067.7 1255.1,1066.4 1256.5,1067.3 1257.9,1065.2 1259.3,1064.8 1260.7,1065.9 1262.1,1065.9 1263.1,1061.9 1264.9,1063.7 1266.3,1067.5 1267.7,1062.7 1269.1,1069.1 1270.6,1066.8 1272.0,1073.5 1273.4,1063.4 1274.8,1068.4 1276.2,1067.3 1277.6,1068.8 1279.0,1070.9 1280.4,1068.4 1281.3,1068.8 1283.2,1070.2 1284.7,1074.5 1286.0,1073.4 1287.4,1075.0 1288.8,1081.4 1290.2,1084.2 1291.6,1086.0 1293.0,1088.2 1294.4,1087.4 1295.8,1095.3 1297.2,1093.4 1298.6,1099.9 1300.0,1100.9 1301.1,1101.8 1302.8,1103.6 1304.2,1107.6 1305.6,1109.5 1307.0,1110.6 1308.4,1115.3 1309.2,1115.5 1311.2,1116.3 1312.6,1129.1 1314.0,1121.0 1315.4,1121.6 1316.8,1121.6 1318.2,1126.3 1320.0,1129.2 1321.0,1128.2 1322.4,1127.4 1323.8,1136.2 1325.2,1135.7 1326.6,1137.8 1328.0,1139.6 1329.4,1144.4 1330.9,1142.9 1332.2,1145.6 1333.6,1147.8 1335.0,1145.1 1336.4,1148.0 1337.8,1148.4 1339.0,1150.9 1340.6,1147.2 1342.0,1153.0 1343.4,1156.4 1344.8,1155.7 1346.2,1158.5 1347.1,1160.0 1349.0,1158.4 1350.4,1162.2 1351.8,1168.4 1353.2,1168.8 1354.6,1166.3 1356.0,1168.4 1358.0,1171.4 1358.8,1171.8 1360.2,1174.0 1361.6,1177.6 1363.0,1178.3 1364.4,1180.1 1365.8,1181.9 1367.2,1183.7 1368.9,1183.9 1370.0,1192.0 1371.4,1187.3 1372.8,1190.2 1374.2,1194.2 1375.6,1195.7 1377.0,1197.6 1378.4,1200.9 1379.8,1208.0 1381.2,1205.2 1382.5,1209.0 1384.0,1218.0 1385.3,1225.0 1386.8,1229.8 1388.2,1231.2 1389.6,1237.7 1390.7,1238.6 1392.4,1240.8 1393.8,1249.5 1395.2,1246.7 1396.6,1247.6 1398.0,1250.4 1398.8,1251.2 1400.8,1256.4 1402.2,1256.4 1403.6,1254.5 1405.0,1256.2 1406.9,1256.8 1407.8,1258.7 1409.2,1257.2 1410.6,1258.0 1412.0,1259.2 1413.4,1260.6 1414.8,1260.4 1416.2,1262.0 1417.8,1263.4 1419.0,1257.5 1420.4,1254.7 1421.8,1259.9 1423.2,1259.5 1424.6,1257.3 1426.0,1259.5 1427.4,1260.9 1428.8,1262.2 1430.2,1264.4 1431.6,1255.8 1433.0,1265.5 1434.4,1264.7 1435.9,1260.4 1436.9,1266.5 1438.7,1257.7 1440.1,1262.0 1441.5,1260.3 1442.9,1260.9 1444.3,1265.8 1445.7,1264.7 1447.1,1261.8 1448.5,1262.5 1449.9,1264.9 1451.3,1265.8 1452.7,1264.1 1454.1,1262.4 1455.5,1259.5 1456.9,1260.3 1458.3,1261.7 1459.7,1258.0 1461.1,1259.1 1462.5,1257.2 1463.9,1263.3 1465.3,1261.1 1466.7,1259.2 1468.1,1268.1 1469.5,1258.8 1470.9,1265.6 1472.3,1260.5 1473.7,1261.3 1475.1,1259.5 1476.5,1265.4 1477.9,1264.9 1479.3,1262.7 1480.7,1260.8 1482.1,1265.2 1483.5,1261.4 1484.9,1261.6 1486.3,1262.2 1487.7,1265.1 1489.1,1264.1 1490.5,1260.6 1491.9,1260.6 1493.3,1264.2 1494.7,1257.6 1496.1,1272.7 1497.5,1265.2 1499.2,1261.2" fill="none" stroke="#0000f2" stroke-width="1.35" stroke-linejoin="round" marker-start="url(#mkb)" marker-mid="url(#mkb)" marker-end="url(#mkb)"/>
<rect x="1187.90" y="1038.00" width="311.30" height="250.80" fill="none" stroke="#262626" stroke-width="1.35"/>
<path d="M1187.90 1288.80v-4M1226.81 1288.80v-2M1265.73 1288.80v-4M1304.64 1288.80v-2M1343.55 1288.80v-4M1382.46 1288.80v-2M1421.38 1288.80v-4M1460.29 1288.80v-2M1499.20 1288.80v-4M1187.90 1288.80v-4M1499.20 1288.80v-4M1187.90 1277.40h4M1187.90 1248.90h2M1187.90 1220.40h4M1187.90 1191.90h2M1187.90 1163.40h4M1187.90 1134.90h2M1187.90 1106.40h4M1187.90 1077.90h2M1187.90 1049.40h4" stroke="#262626" stroke-width="1.2" fill="none"/>
<g font-size="15" fill="#111"><text x="1187.90" y="1306.40" text-anchor="middle">−1000</text><text x="1265.73" y="1306.40" text-anchor="middle">−500</text><text x="1343.55" y="1306.40" text-anchor="middle">0</text><text x="1421.38" y="1306.40" text-anchor="middle">500</text><text x="1499.20" y="1306.40" text-anchor="middle">1000</text><text x="1182.90" y="1281.20" text-anchor="end">−1,0</text><text x="1182.90" y="1224.20" text-anchor="end">−0,5</text><text x="1182.90" y="1167.20" text-anchor="end">0,0</text><text x="1182.90" y="1110.20" text-anchor="end">0,5</text><text x="1182.90" y="1053.20" text-anchor="end">1,0</text></g>
<text x="1343.55" y="1333.90" text-anchor="middle" font-size="18" fill="#111">H [Oe]</text>
<text transform="translate(1145.20 1163.40) rotate(-90)" text-anchor="middle" font-size="18" fill="#111">LMOKE signal</text>
<text transform="scale(0.8600 1)" x="1287.45 1309.65 1340.77" y="1031.59 1032.80 1031.59" font-size="54.33" fill="#000" stroke="#000" stroke-width="0.5">(k)</text>
<line x1="1656.81" y1="1038.00" x2="1656.81" y2="1288.80" stroke="#e2e2e2" stroke-width="1" stroke-dasharray="1 1"/><line x1="1695.73" y1="1038.00" x2="1695.73" y2="1288.80" stroke="#dcdcdc" stroke-width="1.4"/><line x1="1734.64" y1="1038.00" x2="1734.64" y2="1288.80" stroke="#e2e2e2" stroke-width="1" stroke-dasharray="1 1"/><line x1="1773.55" y1="1038.00" x2="1773.55" y2="1288.80" stroke="#dcdcdc" stroke-width="1.4"/><line x1="1812.46" y1="1038.00" x2="1812.46" y2="1288.80" stroke="#e2e2e2" stroke-width="1" stroke-dasharray="1 1"/><line x1="1851.38" y1="1038.00" x2="1851.38" y2="1288.80" stroke="#dcdcdc" stroke-width="1.4"/><line x1="1890.29" y1="1038.00" x2="1890.29" y2="1288.80" stroke="#e2e2e2" stroke-width="1" stroke-dasharray="1 1"/>
<polyline points="1617.9,1053.8 1619.3,1056.8 1620.7,1054.7 1622.1,1057.3 1623.5,1055.9 1624.9,1063.6 1626.3,1054.9 1627.7,1056.8 1629.1,1054.2 1630.5,1056.0 1631.9,1056.1 1633.3,1059.5 1634.7,1060.1 1636.1,1059.7 1637.5,1053.0 1638.9,1054.7 1640.3,1063.7 1641.7,1057.4 1643.1,1055.7 1644.5,1061.5 1645.9,1055.4 1647.3,1062.5 1648.7,1057.2 1650.1,1065.3 1651.5,1056.7 1652.9,1058.3 1654.3,1060.5 1655.7,1050.6 1657.1,1060.6 1658.5,1058.7 1659.9,1054.0 1661.3,1052.9 1662.7,1059.3 1664.1,1053.9 1665.5,1053.4 1666.9,1061.1 1668.3,1060.1 1669.7,1058.3 1671.1,1059.3 1672.5,1059.4 1673.9,1062.1 1675.3,1057.7 1676.7,1061.4 1678.1,1059.0 1679.5,1057.2 1680.9,1059.4 1682.3,1063.7 1683.7,1061.4 1685.1,1064.4 1686.5,1055.0 1687.9,1061.6 1689.3,1063.1 1690.7,1058.5 1692.1,1058.9 1693.5,1055.2 1694.9,1056.2 1695.7,1058.7 1697.7,1059.6 1699.1,1059.9 1700.6,1057.8 1702.0,1056.3 1703.4,1059.2 1704.8,1058.0 1706.2,1063.4 1707.6,1060.3 1709.0,1059.6 1710.4,1062.2 1711.8,1061.3 1713.2,1057.4 1714.6,1056.7 1716.0,1055.2 1717.4,1060.9 1718.8,1061.1 1720.2,1068.0 1721.6,1061.3 1723.0,1064.3 1724.4,1057.7 1725.8,1066.6 1727.2,1060.7 1728.6,1065.5 1730.0,1058.8 1731.4,1064.6 1732.8,1062.9 1734.2,1060.5 1735.6,1065.3 1737.0,1060.3 1738.4,1066.1 1739.8,1056.3 1741.2,1063.8 1742.6,1063.3 1744.0,1060.8 1745.4,1063.3 1746.8,1062.0 1748.2,1062.4 1749.6,1060.9 1751.0,1060.9 1752.4,1058.6 1753.8,1064.4 1755.2,1061.0 1756.6,1062.0 1758.0,1063.0 1759.7,1064.2 1760.8,1097.9 1761.9,1132.6 1763.3,1186.2 1764.5,1226.1 1766.5,1239.8 1767.8,1245.0 1768.7,1248.9 1770.6,1247.7 1772.0,1250.0 1773.9,1256.9 1774.8,1257.1 1776.2,1259.6 1777.6,1261.4 1779.0,1254.7 1780.4,1259.0 1781.8,1246.2 1783.2,1255.3 1784.6,1249.9 1786.0,1254.3 1787.4,1252.3 1789.1,1255.3 1790.2,1254.4 1791.6,1252.9 1793.0,1256.0 1794.4,1256.2 1795.8,1252.8 1797.2,1248.2 1798.6,1257.0 1800.0,1252.5 1801.4,1257.8 1802.8,1256.1 1804.2,1251.0 1805.6,1252.4 1807.0,1250.5 1808.4,1250.4 1809.8,1254.1 1811.2,1254.0 1812.5,1254.4 1814.0,1253.8 1815.4,1247.7 1816.8,1256.5 1818.2,1255.9 1819.6,1251.2 1821.0,1253.7 1822.4,1262.8 1823.8,1255.9 1825.2,1261.4 1826.6,1246.9 1828.0,1252.9 1829.4,1258.3 1830.8,1258.9 1832.2,1256.5 1833.6,1257.8 1835.0,1259.1 1836.4,1255.9 1837.8,1261.3 1839.2,1254.3 1840.6,1257.0 1842.0,1265.8 1843.4,1260.6 1844.8,1258.2 1846.2,1255.2 1847.6,1261.0 1849.0,1265.2 1850.4,1256.3 1851.4,1260.2 1853.2,1260.3 1854.6,1258.4 1856.0,1267.0 1857.4,1261.0 1858.8,1257.8 1860.2,1255.2 1861.6,1258.3 1863.0,1262.5 1864.4,1256.5 1865.9,1265.0 1867.3,1266.3 1868.7,1260.2 1870.1,1267.0 1871.5,1259.7 1872.9,1266.6 1874.3,1262.8 1875.7,1272.4 1877.1,1262.2 1878.5,1257.1 1879.9,1264.1 1881.3,1256.0 1882.7,1259.6 1884.1,1265.7 1885.5,1259.2 1886.9,1266.9 1888.3,1263.1 1889.7,1265.0 1891.1,1264.2 1892.5,1267.2 1893.9,1265.0 1895.3,1265.7 1896.7,1265.5 1898.1,1267.5 1899.5,1263.5 1900.9,1255.9 1902.3,1264.8 1903.7,1265.3 1905.1,1265.9 1906.5,1265.1 1907.9,1267.1 1909.3,1262.6 1910.7,1267.2 1912.1,1265.7 1913.5,1262.1 1914.9,1264.0 1916.3,1264.2 1917.7,1262.4 1919.1,1261.8 1920.5,1264.5 1921.9,1268.4 1923.3,1265.4 1924.7,1258.3 1926.1,1261.3 1927.5,1265.9 1929.2,1260.0" fill="none" stroke="#0000f2" stroke-width="1.35" stroke-linejoin="round" marker-start="url(#mkb)" marker-mid="url(#mkb)" marker-end="url(#mkb)"/>
<polyline points="1617.9,1058.5 1619.3,1056.8 1620.7,1063.4 1622.1,1059.0 1623.5,1057.2 1624.9,1051.3 1626.3,1054.6 1627.7,1058.2 1629.1,1058.0 1630.5,1061.0 1631.9,1060.9 1633.3,1059.7 1634.7,1057.8 1636.1,1057.1 1637.5,1059.0 1638.9,1056.4 1640.3,1062.5 1641.7,1065.1 1643.1,1059.5 1644.5,1059.6 1645.9,1064.7 1647.3,1057.8 1648.7,1053.4 1650.1,1061.7 1651.5,1060.9 1652.9,1059.5 1654.3,1063.5 1655.7,1062.8 1657.1,1056.0 1658.5,1060.9 1659.9,1060.6 1661.3,1057.6 1662.7,1065.0 1664.1,1058.9 1665.5,1059.7 1666.9,1058.1 1668.3,1066.9 1669.7,1060.1 1671.1,1061.2 1672.5,1058.0 1673.9,1060.8 1675.3,1058.3 1676.7,1066.4 1678.1,1058.5 1679.5,1058.9 1680.9,1055.0 1682.3,1060.0 1683.7,1060.3 1685.1,1059.9 1686.5,1057.6 1687.9,1066.4 1689.3,1059.8 1690.7,1061.2 1692.1,1066.6 1693.5,1058.2 1694.9,1059.2 1695.7,1063.5 1697.7,1061.6 1699.1,1064.3 1700.6,1064.8 1702.0,1063.5 1703.4,1061.0 1704.8,1059.0 1706.2,1063.4 1707.6,1061.0 1709.0,1064.0 1710.4,1060.1 1711.8,1060.4 1713.2,1059.4 1714.6,1060.3 1716.0,1064.4 1717.4,1061.8 1718.8,1064.9 1720.2,1063.4 1721.6,1065.5 1723.0,1064.7 1724.4,1061.3 1725.8,1063.2 1727.2,1054.9 1728.6,1063.0 1730.0,1062.9 1731.4,1070.3 1732.8,1065.1 1734.2,1063.0 1735.6,1062.2 1737.0,1064.0 1738.4,1060.1 1739.8,1062.9 1741.2,1065.4 1742.6,1064.6 1744.0,1063.2 1745.4,1063.4 1746.8,1064.4 1748.2,1064.7 1749.6,1062.2 1751.0,1062.2 1752.4,1064.9 1753.8,1059.6 1755.2,1059.7 1756.6,1067.8 1758.0,1061.8 1759.4,1068.9 1760.8,1055.2 1762.2,1063.8 1763.6,1065.3 1765.0,1066.2 1766.4,1068.4 1767.8,1065.4 1769.2,1061.8 1770.6,1065.0 1772.0,1066.0 1773.6,1063.8 1774.8,1065.5 1776.2,1068.1 1777.6,1071.8 1779.0,1066.4 1780.4,1070.3 1781.8,1068.9 1783.2,1073.0 1784.6,1070.9 1786.0,1065.2 1787.4,1066.4 1789.1,1070.4 1790.2,1073.4 1791.6,1069.0 1793.0,1071.1 1794.4,1069.2 1795.8,1068.7 1797.2,1070.5 1798.6,1068.3 1800.0,1071.4 1801.4,1067.8 1802.8,1070.1 1804.2,1073.7 1805.6,1071.1 1807.2,1071.1 1808.6,1075.6 1810.0,1104.1 1811.4,1155.4 1812.6,1211.4 1813.6,1253.5 1815.4,1255.6 1816.8,1258.3 1818.2,1262.1 1820.2,1262.6 1821.0,1264.1 1822.4,1261.4 1823.8,1264.4 1825.2,1259.8 1826.6,1259.0 1828.0,1260.6 1829.4,1263.5 1830.8,1259.9 1832.2,1263.7 1833.6,1263.1 1835.0,1260.4 1836.4,1255.3 1837.8,1263.6 1839.2,1258.9 1840.6,1264.9 1842.0,1260.6 1843.4,1261.0 1844.8,1263.1 1846.2,1262.7 1847.6,1257.5 1849.0,1261.6 1850.4,1259.2 1851.4,1262.4 1853.2,1265.0 1854.6,1260.9 1856.0,1259.8 1857.4,1266.8 1858.8,1263.7 1860.2,1262.0 1861.6,1262.7 1863.0,1264.4 1864.4,1260.0 1865.9,1259.9 1867.3,1264.0 1868.7,1259.4 1870.1,1261.7 1871.5,1265.9 1872.9,1266.7 1874.3,1260.5 1875.7,1258.0 1877.1,1268.9 1878.5,1265.6 1879.9,1263.4 1881.3,1266.4 1882.7,1263.2 1884.1,1263.5 1885.5,1266.9 1886.9,1265.5 1888.3,1264.2 1889.7,1267.8 1891.1,1262.9 1892.5,1265.4 1893.9,1264.4 1895.3,1264.3 1896.7,1266.2 1898.1,1268.7 1899.5,1264.5 1900.9,1261.0 1902.3,1260.5 1903.7,1263.6 1905.1,1262.1 1906.5,1261.5 1907.9,1268.0 1909.3,1265.3 1910.7,1266.0 1912.1,1267.2 1913.5,1270.6 1914.9,1272.7 1916.3,1265.7 1917.7,1267.4 1919.1,1262.1 1920.5,1264.4 1921.9,1269.4 1923.3,1268.4 1924.7,1266.6 1926.1,1266.6 1927.5,1266.7 1929.2,1267.6" fill="none" stroke="#0000f2" stroke-width="1.35" stroke-linejoin="round" marker-start="url(#mkb)" marker-mid="url(#mkb)" marker-end="url(#mkb)"/>
<rect x="1617.90" y="1038.00" width="311.30" height="250.80" fill="none" stroke="#262626" stroke-width="1.35"/>
<path d="M1617.90 1288.80v-4M1656.81 1288.80v-2M1695.73 1288.80v-4M1734.64 1288.80v-2M1773.55 1288.80v-4M1812.46 1288.80v-2M1851.38 1288.80v-4M1890.29 1288.80v-2M1929.20 1288.80v-4M1617.90 1288.80v-4M1929.20 1288.80v-4M1617.90 1277.40h4M1617.90 1248.90h2M1617.90 1220.40h4M1617.90 1191.90h2M1617.90 1163.40h4M1617.90 1134.90h2M1617.90 1106.40h4M1617.90 1077.90h2M1617.90 1049.40h4" stroke="#262626" stroke-width="1.2" fill="none"/>
<g font-size="15" fill="#111"><text x="1617.90" y="1306.40" text-anchor="middle">−1000</text><text x="1695.73" y="1306.40" text-anchor="middle">−500</text><text x="1773.55" y="1306.40" text-anchor="middle">0</text><text x="1851.38" y="1306.40" text-anchor="middle">500</text><text x="1929.20" y="1306.40" text-anchor="middle">1000</text><text x="1612.90" y="1281.20" text-anchor="end">−1,0</text><text x="1612.90" y="1224.20" text-anchor="end">−0,5</text><text x="1612.90" y="1167.20" text-anchor="end">0,0</text><text x="1612.90" y="1110.20" text-anchor="end">0,5</text><text x="1612.90" y="1053.20" text-anchor="end">1,0</text></g>
<text x="1773.55" y="1333.90" text-anchor="middle" font-size="18" fill="#111">H [Oe]</text>
<text transform="translate(1575.20 1163.40) rotate(-90)" text-anchor="middle" font-size="18" fill="#111">LMOKE signal</text>
<text transform="scale(0.8658 1)" x="1774.88 1797.21 1812.73" y="1031.59 1032.80 1031.59" font-size="54.33" fill="#000" stroke="#000" stroke-width="0.5">(l)</text>
</svg></body></html>
